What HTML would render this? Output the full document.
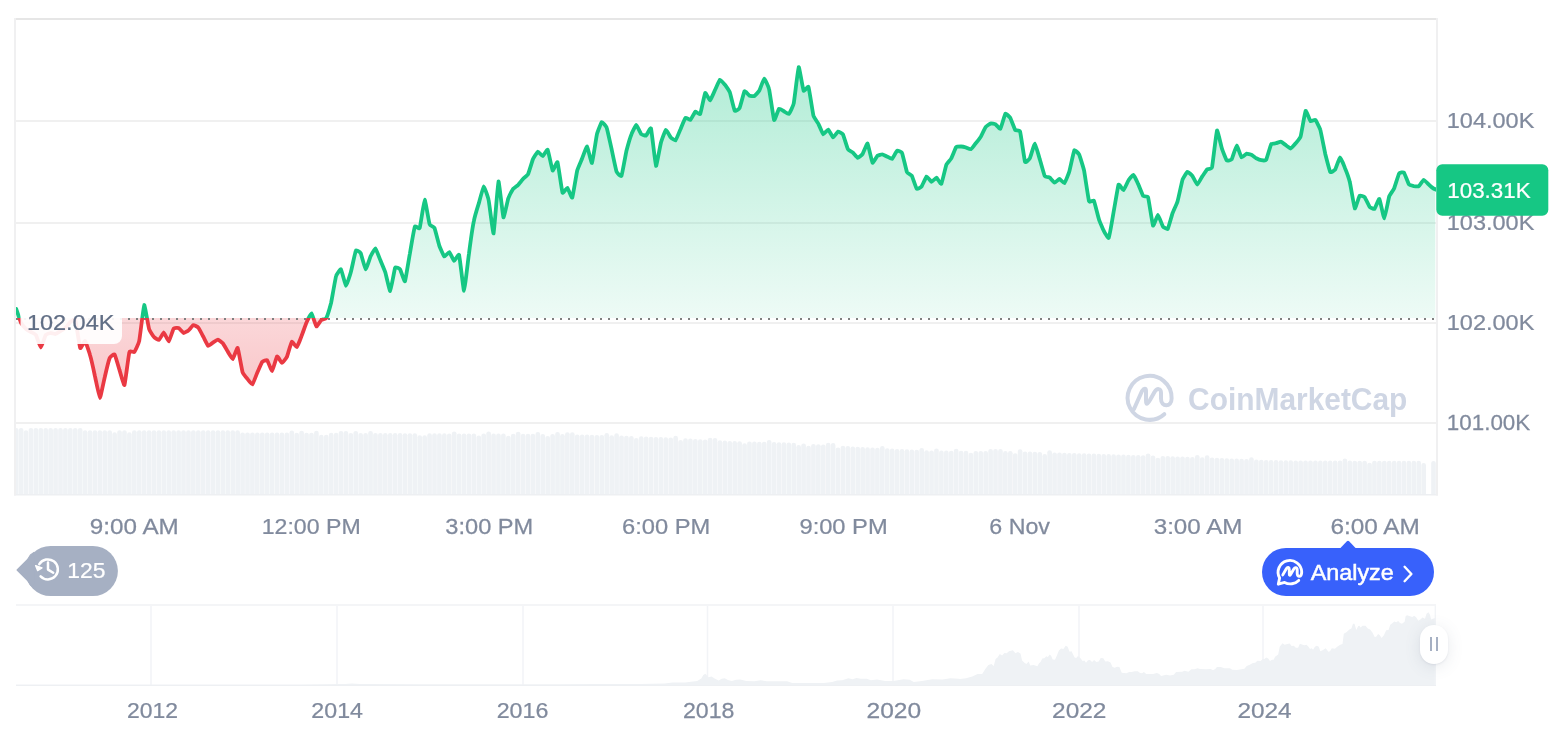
<!DOCTYPE html>
<html lang="en"><head><meta charset="utf-8"><title>Bitcoin price chart</title>
<style>html,body{margin:0;padding:0;background:#fff;}body{width:1566px;height:732px;overflow:hidden;font-family:"Liberation Sans",Arial,sans-serif;}svg{display:block;}body{position:relative;}.handle{position:absolute;left:1420px;top:624.5px;width:28px;height:39.5px;border-radius:14px;background:#fff;box-shadow:0 3px 16px rgba(88,102,126,0.13),0 1px 2px rgba(88,102,126,0.10);}.handle i{position:absolute;top:12.5px;width:1.9px;height:14px;background:#A6B0C3;}.handle i:first-child{left:9.9px;}.handle i:last-child{left:16.1px;}</style>
</head><body>
<svg width="1566" height="732" viewBox="0 0 1566 732" font-family="Liberation Sans, Arial, sans-serif"><defs>
<linearGradient id="gg" gradientUnits="userSpaceOnUse" x1="0" y1="60" x2="0" y2="318"><stop offset="0" stop-color="#16C784" stop-opacity="0.34"/><stop offset="1" stop-color="#16C784" stop-opacity="0.075"/></linearGradient>
<linearGradient id="rg" gradientUnits="userSpaceOnUse" x1="0" y1="318" x2="0" y2="400"><stop offset="0" stop-color="#EA3943" stop-opacity="0.20"/><stop offset="1" stop-color="#EA3943" stop-opacity="0.30"/></linearGradient>
<clipPath id="up"><rect x="16" y="20" width="1420.3" height="298"/></clipPath><clipPath id="upa"><rect x="16" y="20" width="1419.3" height="298"/></clipPath>
<clipPath id="dn"><rect x="16" y="318" width="1420.3" height="110"/></clipPath>
<clipPath id="pane"><rect x="16" y="20" width="1420" height="476"/></clipPath>

</defs><rect width="1566" height="732" fill="#fff"/><rect x="16" y="120" width="1420" height="2" fill="#F0F0F0"/><rect x="16" y="222" width="1420" height="2" fill="#F0F0F0"/><rect x="16" y="322" width="1420" height="2" fill="#F0F0F0"/><rect x="16" y="422" width="1420" height="2" fill="#F0F0F0"/><g fill="#EFF2F5" clip-path="url(#pane)"><path d="M13.90 495V430.1a2.3 2.1 0 0 1 4.6 0V495z"/><path d="M18.82 495V430.1a2.3 2.1 0 0 1 4.6 0V495z"/><path d="M23.74 495V432.4a2.3 2.1 0 0 1 4.6 0V495z"/><path d="M28.66 495V430.1a2.3 2.1 0 0 1 4.6 0V495z"/><path d="M33.58 495V430.1a2.3 2.1 0 0 1 4.6 0V495z"/><path d="M38.51 495V430.1a2.3 2.1 0 0 1 4.6 0V495z"/><path d="M43.43 495V430.1a2.3 2.1 0 0 1 4.6 0V495z"/><path d="M48.35 495V430.1a2.3 2.1 0 0 1 4.6 0V495z"/><path d="M53.27 495V430.1a2.3 2.1 0 0 1 4.6 0V495z"/><path d="M58.19 495V430.1a2.3 2.1 0 0 1 4.6 0V495z"/><path d="M63.11 495V430.1a2.3 2.1 0 0 1 4.6 0V495z"/><path d="M68.03 495V430.1a2.3 2.1 0 0 1 4.6 0V495z"/><path d="M72.95 495V430.1a2.3 2.1 0 0 1 4.6 0V495z"/><path d="M77.88 495V430.1a2.3 2.1 0 0 1 4.6 0V495z"/><path d="M82.80 495V432.3a2.3 2.1 0 0 1 4.6 0V495z"/><path d="M87.72 495V432.3a2.3 2.1 0 0 1 4.6 0V495z"/><path d="M92.64 495V432.3a2.3 2.1 0 0 1 4.6 0V495z"/><path d="M97.56 495V432.3a2.3 2.1 0 0 1 4.6 0V495z"/><path d="M102.48 495V432.3a2.3 2.1 0 0 1 4.6 0V495z"/><path d="M107.40 495V432.3a2.3 2.1 0 0 1 4.6 0V495z"/><path d="M112.32 495V434.4a2.3 2.1 0 0 1 4.6 0V495z"/><path d="M117.25 495V432.3a2.3 2.1 0 0 1 4.6 0V495z"/><path d="M122.17 495V432.3a2.3 2.1 0 0 1 4.6 0V495z"/><path d="M127.09 495V434.4a2.3 2.1 0 0 1 4.6 0V495z"/><path d="M132.01 495V432.3a2.3 2.1 0 0 1 4.6 0V495z"/><path d="M136.93 495V432.3a2.3 2.1 0 0 1 4.6 0V495z"/><path d="M141.85 495V432.3a2.3 2.1 0 0 1 4.6 0V495z"/><path d="M146.77 495V432.3a2.3 2.1 0 0 1 4.6 0V495z"/><path d="M151.69 495V432.3a2.3 2.1 0 0 1 4.6 0V495z"/><path d="M156.61 495V432.3a2.3 2.1 0 0 1 4.6 0V495z"/><path d="M161.54 495V432.3a2.3 2.1 0 0 1 4.6 0V495z"/><path d="M166.46 495V432.3a2.3 2.1 0 0 1 4.6 0V495z"/><path d="M171.38 495V432.3a2.3 2.1 0 0 1 4.6 0V495z"/><path d="M176.30 495V432.3a2.3 2.1 0 0 1 4.6 0V495z"/><path d="M181.22 495V432.3a2.3 2.1 0 0 1 4.6 0V495z"/><path d="M186.14 495V432.3a2.3 2.1 0 0 1 4.6 0V495z"/><path d="M191.06 495V432.3a2.3 2.1 0 0 1 4.6 0V495z"/><path d="M195.98 495V432.3a2.3 2.1 0 0 1 4.6 0V495z"/><path d="M200.91 495V432.3a2.3 2.1 0 0 1 4.6 0V495z"/><path d="M205.83 495V432.3a2.3 2.1 0 0 1 4.6 0V495z"/><path d="M210.75 495V432.3a2.3 2.1 0 0 1 4.6 0V495z"/><path d="M215.67 495V432.3a2.3 2.1 0 0 1 4.6 0V495z"/><path d="M220.59 495V432.3a2.3 2.1 0 0 1 4.6 0V495z"/><path d="M225.51 495V432.3a2.3 2.1 0 0 1 4.6 0V495z"/><path d="M230.43 495V432.3a2.3 2.1 0 0 1 4.6 0V495z"/><path d="M235.35 495V432.3a2.3 2.1 0 0 1 4.6 0V495z"/><path d="M240.28 495V434.5a2.3 2.1 0 0 1 4.6 0V495z"/><path d="M245.20 495V434.5a2.3 2.1 0 0 1 4.6 0V495z"/><path d="M250.12 495V434.6a2.3 2.1 0 0 1 4.6 0V495z"/><path d="M255.04 495V434.6a2.3 2.1 0 0 1 4.6 0V495z"/><path d="M259.96 495V434.6a2.3 2.1 0 0 1 4.6 0V495z"/><path d="M264.88 495V434.6a2.3 2.1 0 0 1 4.6 0V495z"/><path d="M269.80 495V434.6a2.3 2.1 0 0 1 4.6 0V495z"/><path d="M274.72 495V434.7a2.3 2.1 0 0 1 4.6 0V495z"/><path d="M279.64 495V434.7a2.3 2.1 0 0 1 4.6 0V495z"/><path d="M284.57 495V434.7a2.3 2.1 0 0 1 4.6 0V495z"/><path d="M289.49 495V432.7a2.3 2.1 0 0 1 4.6 0V495z"/><path d="M294.41 495V434.8a2.3 2.1 0 0 1 4.6 0V495z"/><path d="M299.33 495V432.8a2.3 2.1 0 0 1 4.6 0V495z"/><path d="M304.25 495V434.8a2.3 2.1 0 0 1 4.6 0V495z"/><path d="M309.17 495V434.8a2.3 2.1 0 0 1 4.6 0V495z"/><path d="M314.09 495V432.9a2.3 2.1 0 0 1 4.6 0V495z"/><path d="M319.01 495V436.9a2.3 2.1 0 0 1 4.6 0V495z"/><path d="M323.94 495V436.9a2.3 2.1 0 0 1 4.6 0V495z"/><path d="M328.86 495V434.9a2.3 2.1 0 0 1 4.6 0V495z"/><path d="M333.78 495V434.9a2.3 2.1 0 0 1 4.6 0V495z"/><path d="M338.70 495V433.0a2.3 2.1 0 0 1 4.6 0V495z"/><path d="M343.62 495V433.0a2.3 2.1 0 0 1 4.6 0V495z"/><path d="M348.54 495V435.0a2.3 2.1 0 0 1 4.6 0V495z"/><path d="M353.46 495V433.0a2.3 2.1 0 0 1 4.6 0V495z"/><path d="M358.38 495V435.1a2.3 2.1 0 0 1 4.6 0V495z"/><path d="M363.31 495V435.1a2.3 2.1 0 0 1 4.6 0V495z"/><path d="M368.23 495V433.1a2.3 2.1 0 0 1 4.6 0V495z"/><path d="M373.15 495V435.1a2.3 2.1 0 0 1 4.6 0V495z"/><path d="M378.07 495V435.1a2.3 2.1 0 0 1 4.6 0V495z"/><path d="M382.99 495V435.2a2.3 2.1 0 0 1 4.6 0V495z"/><path d="M387.91 495V435.2a2.3 2.1 0 0 1 4.6 0V495z"/><path d="M392.83 495V435.2a2.3 2.1 0 0 1 4.6 0V495z"/><path d="M397.75 495V435.2a2.3 2.1 0 0 1 4.6 0V495z"/><path d="M402.67 495V435.3a2.3 2.1 0 0 1 4.6 0V495z"/><path d="M407.60 495V435.3a2.3 2.1 0 0 1 4.6 0V495z"/><path d="M412.52 495V435.3a2.3 2.1 0 0 1 4.6 0V495z"/><path d="M417.44 495V437.3a2.3 2.1 0 0 1 4.6 0V495z"/><path d="M422.36 495V437.4a2.3 2.1 0 0 1 4.6 0V495z"/><path d="M427.28 495V435.4a2.3 2.1 0 0 1 4.6 0V495z"/><path d="M432.20 495V435.4a2.3 2.1 0 0 1 4.6 0V495z"/><path d="M437.12 495V435.4a2.3 2.1 0 0 1 4.6 0V495z"/><path d="M442.04 495V435.4a2.3 2.1 0 0 1 4.6 0V495z"/><path d="M446.97 495V435.5a2.3 2.1 0 0 1 4.6 0V495z"/><path d="M451.89 495V433.5a2.3 2.1 0 0 1 4.6 0V495z"/><path d="M456.81 495V435.5a2.3 2.1 0 0 1 4.6 0V495z"/><path d="M461.73 495V435.5a2.3 2.1 0 0 1 4.6 0V495z"/><path d="M466.65 495V435.6a2.3 2.1 0 0 1 4.6 0V495z"/><path d="M471.57 495V435.6a2.3 2.1 0 0 1 4.6 0V495z"/><path d="M476.49 495V437.6a2.3 2.1 0 0 1 4.6 0V495z"/><path d="M481.41 495V435.6a2.3 2.1 0 0 1 4.6 0V495z"/><path d="M486.34 495V433.6a2.3 2.1 0 0 1 4.6 0V495z"/><path d="M491.26 495V435.7a2.3 2.1 0 0 1 4.6 0V495z"/><path d="M496.18 495V435.7a2.3 2.1 0 0 1 4.6 0V495z"/><path d="M501.10 495V435.7a2.3 2.1 0 0 1 4.6 0V495z"/><path d="M506.02 495V437.8a2.3 2.1 0 0 1 4.6 0V495z"/><path d="M510.94 495V435.8a2.3 2.1 0 0 1 4.6 0V495z"/><path d="M515.86 495V433.8a2.3 2.1 0 0 1 4.6 0V495z"/><path d="M520.78 495V435.9a2.3 2.1 0 0 1 4.6 0V495z"/><path d="M525.70 495V435.9a2.3 2.1 0 0 1 4.6 0V495z"/><path d="M530.63 495V435.9a2.3 2.1 0 0 1 4.6 0V495z"/><path d="M535.55 495V434.0a2.3 2.1 0 0 1 4.6 0V495z"/><path d="M540.47 495V436.0a2.3 2.1 0 0 1 4.6 0V495z"/><path d="M545.39 495V438.0a2.3 2.1 0 0 1 4.6 0V495z"/><path d="M550.31 495V436.1a2.3 2.1 0 0 1 4.6 0V495z"/><path d="M555.23 495V434.1a2.3 2.1 0 0 1 4.6 0V495z"/><path d="M560.15 495V436.2a2.3 2.1 0 0 1 4.6 0V495z"/><path d="M565.07 495V434.3a2.3 2.1 0 0 1 4.6 0V495z"/><path d="M570.00 495V434.4a2.3 2.1 0 0 1 4.6 0V495z"/><path d="M574.92 495V436.5a2.3 2.1 0 0 1 4.6 0V495z"/><path d="M579.84 495V436.6a2.3 2.1 0 0 1 4.6 0V495z"/><path d="M584.76 495V436.7a2.3 2.1 0 0 1 4.6 0V495z"/><path d="M589.68 495V436.8a2.3 2.1 0 0 1 4.6 0V495z"/><path d="M594.60 495V437.0a2.3 2.1 0 0 1 4.6 0V495z"/><path d="M599.52 495V437.1a2.3 2.1 0 0 1 4.6 0V495z"/><path d="M604.44 495V435.2a2.3 2.1 0 0 1 4.6 0V495z"/><path d="M609.37 495V437.3a2.3 2.1 0 0 1 4.6 0V495z"/><path d="M614.29 495V435.4a2.3 2.1 0 0 1 4.6 0V495z"/><path d="M619.21 495V437.6a2.3 2.1 0 0 1 4.6 0V495z"/><path d="M624.13 495V437.8a2.3 2.1 0 0 1 4.6 0V495z"/><path d="M629.05 495V438.0a2.3 2.1 0 0 1 4.6 0V495z"/><path d="M633.97 495V440.2a2.3 2.1 0 0 1 4.6 0V495z"/><path d="M638.89 495V438.4a2.3 2.1 0 0 1 4.6 0V495z"/><path d="M643.81 495V438.6a2.3 2.1 0 0 1 4.6 0V495z"/><path d="M648.73 495V438.8a2.3 2.1 0 0 1 4.6 0V495z"/><path d="M653.66 495V439.0a2.3 2.1 0 0 1 4.6 0V495z"/><path d="M658.58 495V439.2a2.3 2.1 0 0 1 4.6 0V495z"/><path d="M663.50 495V439.4a2.3 2.1 0 0 1 4.6 0V495z"/><path d="M668.42 495V439.6a2.3 2.1 0 0 1 4.6 0V495z"/><path d="M673.34 495V437.9a2.3 2.1 0 0 1 4.6 0V495z"/><path d="M678.26 495V442.1a2.3 2.1 0 0 1 4.6 0V495z"/><path d="M683.18 495V440.4a2.3 2.1 0 0 1 4.6 0V495z"/><path d="M688.10 495V440.7a2.3 2.1 0 0 1 4.6 0V495z"/><path d="M693.03 495V441.0a2.3 2.1 0 0 1 4.6 0V495z"/><path d="M697.95 495V441.3a2.3 2.1 0 0 1 4.6 0V495z"/><path d="M702.87 495V441.6a2.3 2.1 0 0 1 4.6 0V495z"/><path d="M707.79 495V439.8a2.3 2.1 0 0 1 4.6 0V495z"/><path d="M712.71 495V440.1a2.3 2.1 0 0 1 4.6 0V495z"/><path d="M717.63 495V442.4a2.3 2.1 0 0 1 4.6 0V495z"/><path d="M722.55 495V442.7a2.3 2.1 0 0 1 4.6 0V495z"/><path d="M727.47 495V443.0a2.3 2.1 0 0 1 4.6 0V495z"/><path d="M732.40 495V443.2a2.3 2.1 0 0 1 4.6 0V495z"/><path d="M737.32 495V443.3a2.3 2.1 0 0 1 4.6 0V495z"/><path d="M742.24 495V445.4a2.3 2.1 0 0 1 4.6 0V495z"/><path d="M747.16 495V443.6a2.3 2.1 0 0 1 4.6 0V495z"/><path d="M752.08 495V443.7a2.3 2.1 0 0 1 4.6 0V495z"/><path d="M757.00 495V443.8a2.3 2.1 0 0 1 4.6 0V495z"/><path d="M761.92 495V443.9a2.3 2.1 0 0 1 4.6 0V495z"/><path d="M766.84 495V442.1a2.3 2.1 0 0 1 4.6 0V495z"/><path d="M771.76 495V444.2a2.3 2.1 0 0 1 4.6 0V495z"/><path d="M776.69 495V444.3a2.3 2.1 0 0 1 4.6 0V495z"/><path d="M781.61 495V444.4a2.3 2.1 0 0 1 4.6 0V495z"/><path d="M786.53 495V444.7a2.3 2.1 0 0 1 4.6 0V495z"/><path d="M791.45 495V444.9a2.3 2.1 0 0 1 4.6 0V495z"/><path d="M796.37 495V447.2a2.3 2.1 0 0 1 4.6 0V495z"/><path d="M801.29 495V445.5a2.3 2.1 0 0 1 4.6 0V495z"/><path d="M806.21 495V447.8a2.3 2.1 0 0 1 4.6 0V495z"/><path d="M811.13 495V446.1a2.3 2.1 0 0 1 4.6 0V495z"/><path d="M816.06 495V446.3a2.3 2.1 0 0 1 4.6 0V495z"/><path d="M820.98 495V446.6a2.3 2.1 0 0 1 4.6 0V495z"/><path d="M825.90 495V444.9a2.3 2.1 0 0 1 4.6 0V495z"/><path d="M830.82 495V445.2a2.3 2.1 0 0 1 4.6 0V495z"/><path d="M835.74 495V449.5a2.3 2.1 0 0 1 4.6 0V495z"/><path d="M840.66 495V447.8a2.3 2.1 0 0 1 4.6 0V495z"/><path d="M845.58 495V448.2a2.3 2.1 0 0 1 4.6 0V495z"/><path d="M850.50 495V448.5a2.3 2.1 0 0 1 4.6 0V495z"/><path d="M855.43 495V448.8a2.3 2.1 0 0 1 4.6 0V495z"/><path d="M860.35 495V449.1a2.3 2.1 0 0 1 4.6 0V495z"/><path d="M865.27 495V449.4a2.3 2.1 0 0 1 4.6 0V495z"/><path d="M870.19 495V449.7a2.3 2.1 0 0 1 4.6 0V495z"/><path d="M875.11 495V449.9a2.3 2.1 0 0 1 4.6 0V495z"/><path d="M880.03 495V448.2a2.3 2.1 0 0 1 4.6 0V495z"/><path d="M884.95 495V450.4a2.3 2.1 0 0 1 4.6 0V495z"/><path d="M889.87 495V450.7a2.3 2.1 0 0 1 4.6 0V495z"/><path d="M894.79 495V451.0a2.3 2.1 0 0 1 4.6 0V495z"/><path d="M899.72 495V451.2a2.3 2.1 0 0 1 4.6 0V495z"/><path d="M904.64 495V451.4a2.3 2.1 0 0 1 4.6 0V495z"/><path d="M909.56 495V451.7a2.3 2.1 0 0 1 4.6 0V495z"/><path d="M914.48 495V451.9a2.3 2.1 0 0 1 4.6 0V495z"/><path d="M919.40 495V450.1a2.3 2.1 0 0 1 4.6 0V495z"/><path d="M924.32 495V452.3a2.3 2.1 0 0 1 4.6 0V495z"/><path d="M929.24 495V452.6a2.3 2.1 0 0 1 4.6 0V495z"/><path d="M934.16 495V450.6a2.3 2.1 0 0 1 4.6 0V495z"/><path d="M939.09 495V452.7a2.3 2.1 0 0 1 4.6 0V495z"/><path d="M944.01 495V452.7a2.3 2.1 0 0 1 4.6 0V495z"/><path d="M948.93 495V452.8a2.3 2.1 0 0 1 4.6 0V495z"/><path d="M953.85 495V450.8a2.3 2.1 0 0 1 4.6 0V495z"/><path d="M958.77 495V452.8a2.3 2.1 0 0 1 4.6 0V495z"/><path d="M963.69 495V452.9a2.3 2.1 0 0 1 4.6 0V495z"/><path d="M968.61 495V454.9a2.3 2.1 0 0 1 4.6 0V495z"/><path d="M973.53 495V453.0a2.3 2.1 0 0 1 4.6 0V495z"/><path d="M978.46 495V453.0a2.3 2.1 0 0 1 4.6 0V495z"/><path d="M983.38 495V453.0a2.3 2.1 0 0 1 4.6 0V495z"/><path d="M988.30 495V451.1a2.3 2.1 0 0 1 4.6 0V495z"/><path d="M993.22 495V451.1a2.3 2.1 0 0 1 4.6 0V495z"/><path d="M998.14 495V451.2a2.3 2.1 0 0 1 4.6 0V495z"/><path d="M1003.06 495V453.2a2.3 2.1 0 0 1 4.6 0V495z"/><path d="M1007.98 495V453.2a2.3 2.1 0 0 1 4.6 0V495z"/><path d="M1012.90 495V455.3a2.3 2.1 0 0 1 4.6 0V495z"/><path d="M1017.82 495V451.4a2.3 2.1 0 0 1 4.6 0V495z"/><path d="M1022.75 495V453.5a2.3 2.1 0 0 1 4.6 0V495z"/><path d="M1027.67 495V453.7a2.3 2.1 0 0 1 4.6 0V495z"/><path d="M1032.59 495V453.8a2.3 2.1 0 0 1 4.6 0V495z"/><path d="M1037.51 495V454.0a2.3 2.1 0 0 1 4.6 0V495z"/><path d="M1042.43 495V456.2a2.3 2.1 0 0 1 4.6 0V495z"/><path d="M1047.35 495V452.3a2.3 2.1 0 0 1 4.6 0V495z"/><path d="M1052.27 495V454.5a2.3 2.1 0 0 1 4.6 0V495z"/><path d="M1057.19 495V454.6a2.3 2.1 0 0 1 4.6 0V495z"/><path d="M1062.12 495V454.8a2.3 2.1 0 0 1 4.6 0V495z"/><path d="M1067.04 495V455.0a2.3 2.1 0 0 1 4.6 0V495z"/><path d="M1071.96 495V455.1a2.3 2.1 0 0 1 4.6 0V495z"/><path d="M1076.88 495V455.3a2.3 2.1 0 0 1 4.6 0V495z"/><path d="M1081.80 495V455.4a2.3 2.1 0 0 1 4.6 0V495z"/><path d="M1086.72 495V455.6a2.3 2.1 0 0 1 4.6 0V495z"/><path d="M1091.64 495V455.7a2.3 2.1 0 0 1 4.6 0V495z"/><path d="M1096.56 495V455.9a2.3 2.1 0 0 1 4.6 0V495z"/><path d="M1101.49 495V456.1a2.3 2.1 0 0 1 4.6 0V495z"/><path d="M1106.41 495V456.2a2.3 2.1 0 0 1 4.6 0V495z"/><path d="M1111.33 495V456.4a2.3 2.1 0 0 1 4.6 0V495z"/><path d="M1116.25 495V456.5a2.3 2.1 0 0 1 4.6 0V495z"/><path d="M1121.17 495V456.7a2.3 2.1 0 0 1 4.6 0V495z"/><path d="M1126.09 495V456.9a2.3 2.1 0 0 1 4.6 0V495z"/><path d="M1131.01 495V457.0a2.3 2.1 0 0 1 4.6 0V495z"/><path d="M1135.93 495V457.2a2.3 2.1 0 0 1 4.6 0V495z"/><path d="M1140.85 495V457.3a2.3 2.1 0 0 1 4.6 0V495z"/><path d="M1145.78 495V455.5a2.3 2.1 0 0 1 4.6 0V495z"/><path d="M1150.70 495V457.7a2.3 2.1 0 0 1 4.6 0V495z"/><path d="M1155.62 495V459.8a2.3 2.1 0 0 1 4.6 0V495z"/><path d="M1160.54 495V458.0a2.3 2.1 0 0 1 4.6 0V495z"/><path d="M1165.46 495V458.1a2.3 2.1 0 0 1 4.6 0V495z"/><path d="M1170.38 495V458.3a2.3 2.1 0 0 1 4.6 0V495z"/><path d="M1175.30 495V458.5a2.3 2.1 0 0 1 4.6 0V495z"/><path d="M1180.22 495V458.6a2.3 2.1 0 0 1 4.6 0V495z"/><path d="M1185.15 495V458.8a2.3 2.1 0 0 1 4.6 0V495z"/><path d="M1190.07 495V459.0a2.3 2.1 0 0 1 4.6 0V495z"/><path d="M1194.99 495V457.1a2.3 2.1 0 0 1 4.6 0V495z"/><path d="M1199.91 495V459.3a2.3 2.1 0 0 1 4.6 0V495z"/><path d="M1204.83 495V457.4a2.3 2.1 0 0 1 4.6 0V495z"/><path d="M1209.75 495V459.6a2.3 2.1 0 0 1 4.6 0V495z"/><path d="M1214.67 495V459.8a2.3 2.1 0 0 1 4.6 0V495z"/><path d="M1219.59 495V460.0a2.3 2.1 0 0 1 4.6 0V495z"/><path d="M1224.52 495V460.3a2.3 2.1 0 0 1 4.6 0V495z"/><path d="M1229.44 495V460.5a2.3 2.1 0 0 1 4.6 0V495z"/><path d="M1234.36 495V460.7a2.3 2.1 0 0 1 4.6 0V495z"/><path d="M1239.28 495V460.9a2.3 2.1 0 0 1 4.6 0V495z"/><path d="M1244.20 495V461.1a2.3 2.1 0 0 1 4.6 0V495z"/><path d="M1249.12 495V459.4a2.3 2.1 0 0 1 4.6 0V495z"/><path d="M1254.04 495V461.6a2.3 2.1 0 0 1 4.6 0V495z"/><path d="M1258.96 495V461.8a2.3 2.1 0 0 1 4.6 0V495z"/><path d="M1263.88 495V462.0a2.3 2.1 0 0 1 4.6 0V495z"/><path d="M1268.81 495V462.1a2.3 2.1 0 0 1 4.6 0V495z"/><path d="M1273.73 495V462.2a2.3 2.1 0 0 1 4.6 0V495z"/><path d="M1278.65 495V462.3a2.3 2.1 0 0 1 4.6 0V495z"/><path d="M1283.57 495V462.4a2.3 2.1 0 0 1 4.6 0V495z"/><path d="M1288.49 495V462.4a2.3 2.1 0 0 1 4.6 0V495z"/><path d="M1293.41 495V462.5a2.3 2.1 0 0 1 4.6 0V495z"/><path d="M1298.33 495V462.6a2.3 2.1 0 0 1 4.6 0V495z"/><path d="M1303.25 495V462.6a2.3 2.1 0 0 1 4.6 0V495z"/><path d="M1308.18 495V462.6a2.3 2.1 0 0 1 4.6 0V495z"/><path d="M1313.10 495V462.6a2.3 2.1 0 0 1 4.6 0V495z"/><path d="M1318.02 495V462.7a2.3 2.1 0 0 1 4.6 0V495z"/><path d="M1322.94 495V462.7a2.3 2.1 0 0 1 4.6 0V495z"/><path d="M1327.86 495V462.7a2.3 2.1 0 0 1 4.6 0V495z"/><path d="M1332.78 495V462.7a2.3 2.1 0 0 1 4.6 0V495z"/><path d="M1337.70 495V462.7a2.3 2.1 0 0 1 4.6 0V495z"/><path d="M1342.62 495V460.7a2.3 2.1 0 0 1 4.6 0V495z"/><path d="M1347.55 495V462.7a2.3 2.1 0 0 1 4.6 0V495z"/><path d="M1352.47 495V462.8a2.3 2.1 0 0 1 4.6 0V495z"/><path d="M1357.39 495V462.8a2.3 2.1 0 0 1 4.6 0V495z"/><path d="M1362.31 495V462.8a2.3 2.1 0 0 1 4.6 0V495z"/><path d="M1367.23 495V464.8a2.3 2.1 0 0 1 4.6 0V495z"/><path d="M1372.15 495V462.8a2.3 2.1 0 0 1 4.6 0V495z"/><path d="M1377.07 495V462.8a2.3 2.1 0 0 1 4.6 0V495z"/><path d="M1381.99 495V462.8a2.3 2.1 0 0 1 4.6 0V495z"/><path d="M1386.91 495V462.9a2.3 2.1 0 0 1 4.6 0V495z"/><path d="M1391.84 495V462.9a2.3 2.1 0 0 1 4.6 0V495z"/><path d="M1396.76 495V462.9a2.3 2.1 0 0 1 4.6 0V495z"/><path d="M1401.68 495V462.9a2.3 2.1 0 0 1 4.6 0V495z"/><path d="M1406.60 495V462.9a2.3 2.1 0 0 1 4.6 0V495z"/><path d="M1411.52 495V462.9a2.3 2.1 0 0 1 4.6 0V495z"/><path d="M1416.44 495V462.9a2.3 2.1 0 0 1 4.6 0V495z"/><path d="M1421.36 495V465.0a2.3 2.1 0 0 1 4.6 0V495z"/><path d="M1431.21 495V463.0a2.3 2.1 0 0 1 4.6 0V495z"/></g><rect x="14" y="494" width="1424" height="1.5" fill="#EDEFF2"/><g fill="none" stroke="#CFD6E4" stroke-width="4" stroke-linecap="round" stroke-linejoin="round"><path d="M1164.3 414.2 A22 22 0 1 1 1171.6 398.5 C1171.6 407.5 1161 407.5 1161 398.5 V393 C1161 388 1157 388 1154.5 392 L1150 400 C1147 405 1146 405 1146 400 V391 C1146 388 1144 388 1142 391 L1134 409"/></g><text transform="translate(1188.07 409.7) scale(0.9808 1)" font-size="30.5" fill="#CFD6E4" font-weight="bold">CoinMarketCap</text><path d="M16.2 309.0C16.5 309.8 20.6 321.9 21.1 323.0C21.7 324.1 25.5 328.5 26.0 329.0C26.6 329.5 30.4 331.7 31.0 332.0C31.5 332.3 35.3 334.1 35.9 335.0C36.4 335.9 40.3 347.5 40.8 347.5C41.4 347.5 45.2 335.8 45.7 335.0C46.3 334.2 50.1 333.1 50.6 333.0C51.2 332.9 55.0 334.1 55.6 334.0C56.1 333.9 59.9 331.3 60.5 331.0C61.0 330.7 64.9 328.5 65.4 328.0C66.0 327.5 69.8 322.4 70.3 322.0C70.9 321.6 74.7 318.6 75.3 320.0C75.8 321.4 79.6 346.8 80.2 348.0C80.7 349.2 84.5 340.6 85.1 341.0C85.6 341.4 89.5 353.1 90.0 355.0C90.6 356.9 94.4 373.6 94.9 376.0C95.5 378.4 99.3 397.9 99.9 398.0C100.4 398.1 104.2 379.2 104.8 377.0C105.3 374.8 109.2 359.2 109.7 358.0C110.2 356.8 114.1 353.8 114.6 354.5C115.2 355.2 119.0 368.3 119.5 370.0C120.1 371.7 123.9 386.0 124.5 385.0C125.0 384.0 128.8 353.8 129.4 352.0C129.9 350.2 133.8 352.6 134.3 352.0C134.9 351.4 138.7 343.6 139.2 341.0C139.8 338.4 143.6 305.7 144.2 305.0C144.7 304.3 148.5 327.2 149.1 329.0C149.6 330.8 153.4 336.4 154.0 337.0C154.5 337.6 158.4 340.2 158.9 340.0C159.5 339.8 163.3 332.4 163.8 332.5C164.4 332.6 168.2 341.7 168.8 341.5C169.3 341.3 173.1 329.2 173.7 328.5C174.2 327.8 178.1 327.8 178.6 328.0C179.1 328.2 183.0 332.9 183.5 333.0C184.1 333.1 187.9 330.9 188.4 330.5C189.0 330.1 192.8 325.2 193.4 325.0C193.9 324.8 197.7 327.0 198.3 327.6C198.8 328.2 202.7 335.6 203.2 336.6C203.8 337.6 207.6 345.6 208.1 345.9C208.7 346.2 212.5 343.0 213.0 342.6C213.6 342.2 217.4 339.6 218.0 339.6C218.5 339.6 222.3 342.6 222.9 343.3C223.4 344.0 227.3 350.7 227.8 351.6C228.4 352.5 232.2 359.3 232.7 359.1C233.3 358.9 237.1 347.2 237.7 347.9C238.2 348.6 242.0 370.6 242.6 372.3C243.1 374.0 246.9 378.3 247.5 379.0C248.0 379.7 251.9 384.8 252.4 384.4C253.0 384.0 256.8 373.9 257.3 372.6C257.9 371.3 261.7 362.5 262.3 361.8C262.8 361.1 266.6 359.8 267.2 360.3C267.7 360.8 271.6 371.3 272.1 371.1C272.6 370.9 276.5 356.9 277.0 356.4C277.6 355.9 281.4 362.9 281.9 362.9C282.5 362.9 286.3 358.1 286.9 356.9C287.4 355.7 291.2 342.3 291.8 341.8C292.3 341.3 296.2 347.4 296.7 347.1C297.3 346.8 301.1 337.2 301.6 335.8C302.2 334.4 306.0 323.6 306.6 322.3C307.1 321.1 310.9 313.1 311.5 313.3C312.0 313.5 315.8 326.0 316.4 326.4C316.9 326.8 320.8 320.5 321.3 320.0C321.9 319.5 325.7 319.2 326.2 318.2C326.8 317.2 330.6 304.7 331.2 302.4C331.7 300.1 335.5 277.8 336.1 276.0C336.6 274.2 340.5 268.8 341.0 269.3C341.5 269.8 345.4 285.6 345.9 285.8C346.5 286.0 350.3 274.2 350.8 272.3C351.4 270.4 355.2 251.9 355.8 250.8C356.3 249.7 360.1 252.2 360.7 253.2C361.2 254.2 365.1 269.1 365.6 269.3C366.2 269.5 370.0 257.7 370.5 256.5C371.1 255.3 374.9 248.1 375.4 248.3C376.0 248.5 379.8 259.0 380.4 260.3C380.9 261.6 384.7 270.6 385.3 272.3C385.8 274.0 389.7 291.3 390.2 291.1C390.8 290.8 394.6 269.0 395.1 267.8C395.7 266.6 399.5 268.5 400.1 269.3C400.6 270.0 404.4 282.2 405.0 281.3C405.5 280.4 409.3 256.5 409.9 253.5C410.4 250.5 414.3 228.2 414.8 226.8C415.4 225.4 419.2 229.5 419.7 228.0C420.3 226.5 424.1 199.9 424.7 199.7C425.2 199.5 429.0 222.6 429.6 224.2C430.1 225.8 434.0 226.8 434.5 228.0C435.0 229.2 438.9 244.4 439.4 246.0C440.0 247.6 443.8 256.2 444.3 256.5C444.9 256.8 448.7 251.8 449.3 252.0C449.8 252.2 453.6 260.8 454.2 261.0C454.7 261.2 458.6 253.3 459.1 255.0C459.7 256.7 463.5 290.9 464.0 290.8C464.6 290.7 468.4 257.4 469.0 253.5C469.5 249.6 473.3 223.7 473.9 220.9C474.4 218.1 478.2 205.3 478.8 203.4C479.3 201.5 483.2 186.6 483.7 186.4C484.3 186.2 488.1 197.3 488.6 199.9C489.2 202.5 493.0 234.4 493.6 233.4C494.1 232.4 497.9 182.3 498.5 181.4C499.0 180.5 502.9 216.5 503.4 217.4C503.9 218.3 507.8 199.9 508.3 198.3C508.9 196.7 512.7 189.6 513.2 188.8C513.8 188.1 517.6 185.4 518.2 184.8C518.7 184.2 522.5 179.4 523.1 178.8C523.6 178.2 527.5 175.4 528.0 174.3C528.6 173.2 532.4 160.5 532.9 159.2C533.5 157.9 537.3 151.9 537.8 151.7C538.4 151.5 542.2 156.3 542.8 156.2C543.3 156.1 547.1 149.0 547.7 149.8C548.2 150.6 552.1 169.8 552.6 170.5C553.2 171.2 557.0 161.0 557.5 162.2C558.1 163.4 561.9 191.3 562.5 192.7C563.0 194.1 566.8 187.5 567.4 187.8C567.9 188.1 571.7 198.6 572.3 197.6C572.8 196.6 576.7 172.7 577.2 170.5C577.8 168.3 581.6 159.8 582.1 158.5C582.7 157.2 586.5 146.2 587.1 146.5C587.6 146.8 591.4 163.7 592.0 163.0C592.5 162.3 596.4 136.7 596.9 134.4C597.4 132.1 601.3 122.5 601.8 122.1C602.4 121.7 606.2 126.2 606.7 127.7C607.3 129.2 611.1 147.1 611.7 149.5C612.2 151.9 616.0 170.2 616.6 171.7C617.1 173.2 621.0 177.0 621.5 175.8C622.1 174.7 625.9 153.3 626.4 151.0C627.0 148.7 630.8 135.8 631.4 134.4C631.9 133.0 635.7 125.0 636.3 125.0C636.8 125.0 640.6 133.5 641.2 134.1C641.7 134.7 645.6 135.9 646.1 135.6C646.7 135.3 650.5 126.8 651.0 128.5C651.6 130.2 655.4 165.1 656.0 165.9C656.5 166.7 660.3 144.9 660.9 142.9C661.4 140.9 665.3 130.1 665.8 129.8C666.3 129.5 670.2 136.7 670.7 137.3C671.3 137.9 675.1 140.8 675.6 140.3C676.2 139.8 680.0 130.2 680.6 129.0C681.1 127.8 684.9 118.3 685.5 117.8C686.0 117.3 689.9 120.3 690.4 120.0C691.0 119.7 694.8 112.0 695.3 111.7C695.9 111.4 699.7 115.0 700.2 114.0C700.8 113.0 704.6 93.8 705.2 93.0C705.7 92.2 709.5 100.7 710.1 100.5C710.6 100.3 714.5 91.2 715.0 90.0C715.6 88.8 719.4 80.0 719.9 79.7C720.5 79.4 724.3 84.0 724.9 84.7C725.4 85.4 729.2 90.8 729.8 92.2C730.3 93.6 734.1 109.8 734.7 110.7C735.2 111.6 739.1 109.1 739.6 108.0C740.2 106.9 744.0 91.9 744.5 91.2C745.1 90.5 748.9 95.4 749.5 95.7C750.0 96.0 753.8 96.3 754.4 96.0C754.9 95.7 758.8 91.7 759.3 90.7C759.8 89.7 763.7 78.8 764.2 78.7C764.8 78.6 768.6 86.9 769.1 89.2C769.7 91.5 773.5 118.9 774.1 120.0C774.6 121.1 778.4 109.2 779.0 108.7C779.5 108.2 783.4 111.0 783.9 111.3C784.5 111.6 788.3 114.4 788.8 114.0C789.4 113.6 793.2 106.1 793.7 103.5C794.3 100.9 798.1 67.8 798.7 67.1C799.2 66.4 803.0 89.6 803.6 90.7C804.1 91.8 808.0 85.6 808.5 87.0C809.1 88.4 812.9 113.5 813.4 115.5C814.0 117.5 817.8 122.8 818.4 123.8C818.9 124.8 822.7 134.0 823.3 134.3C823.8 134.6 827.7 129.3 828.2 129.5C828.7 129.7 832.6 137.3 833.1 137.4C833.7 137.5 837.5 131.8 838.0 131.6C838.6 131.4 842.4 133.4 843.0 134.4C843.5 135.4 847.3 148.2 847.9 149.2C848.4 150.2 852.3 152.0 852.8 152.5C853.4 153.0 857.2 157.7 857.7 157.8C858.3 157.9 862.1 154.8 862.6 154.0C863.2 153.2 867.0 143.0 867.6 143.5C868.1 144.0 871.9 162.0 872.5 162.7C873.0 163.4 876.9 156.3 877.4 155.8C878.0 155.3 881.8 154.2 882.3 154.3C882.9 154.4 886.7 156.5 887.3 156.7C887.8 157.0 891.6 159.1 892.2 158.8C892.7 158.5 896.5 151.0 897.1 150.7C897.6 150.4 901.5 151.6 902.0 152.8C902.6 154.0 906.4 170.7 906.9 172.0C907.5 173.3 911.3 174.9 911.9 175.8C912.4 176.7 916.2 188.3 916.8 188.9C917.3 189.5 921.2 187.0 921.7 186.3C922.2 185.6 926.1 176.8 926.6 176.5C927.2 176.2 931.0 181.7 931.5 181.8C932.1 181.9 935.9 177.6 936.5 177.7C937.0 177.8 940.8 184.5 941.4 183.8C941.9 183.1 945.8 166.2 946.3 164.8C946.9 163.4 950.7 159.5 951.2 158.5C951.8 157.5 955.6 147.9 956.1 147.2C956.7 146.5 960.5 146.5 961.1 146.5C961.6 146.5 965.4 147.3 966.0 147.5C966.5 147.7 970.4 149.4 970.9 149.2C971.5 149.0 975.3 143.9 975.8 143.2C976.4 142.5 980.2 137.6 980.8 136.7C981.3 135.8 985.1 127.7 985.7 127.0C986.2 126.3 990.1 123.7 990.6 123.5C991.1 123.3 995.0 124.0 995.5 124.3C996.1 124.6 999.9 129.4 1000.4 128.8C1001.0 128.2 1004.8 114.3 1005.4 113.7C1005.9 113.1 1009.7 117.0 1010.3 117.9C1010.8 118.8 1014.7 129.2 1015.2 130.0C1015.8 130.8 1019.6 129.9 1020.1 131.7C1020.7 133.5 1024.5 160.4 1025.0 161.9C1025.6 163.4 1029.4 158.9 1030.0 157.9C1030.5 156.9 1034.3 143.6 1034.9 143.7C1035.4 143.8 1039.3 157.6 1039.8 159.4C1040.4 161.2 1044.2 175.0 1044.7 176.0C1045.3 177.0 1049.1 177.1 1049.7 177.5C1050.2 177.9 1054.0 182.6 1054.6 182.7C1055.1 182.8 1058.9 179.0 1059.5 179.0C1060.0 179.0 1063.9 183.6 1064.4 183.2C1065.0 182.8 1068.8 173.3 1069.3 171.5C1069.9 169.7 1073.7 151.3 1074.3 150.4C1074.8 149.5 1078.6 153.5 1079.2 154.6C1079.7 155.7 1083.6 168.1 1084.1 170.7C1084.6 173.3 1088.5 199.5 1089.0 201.2C1089.6 202.9 1093.4 199.8 1093.9 200.8C1094.5 201.8 1098.3 217.5 1098.9 219.2C1099.4 220.9 1103.2 229.8 1103.8 230.8C1104.3 231.8 1108.2 238.9 1108.7 237.9C1109.3 236.9 1113.1 215.0 1113.6 212.0C1114.2 209.0 1118.0 185.9 1118.5 184.7C1119.1 183.5 1122.9 190.4 1123.5 190.2C1124.0 190.0 1127.8 181.4 1128.4 180.5C1128.9 179.6 1132.8 174.6 1133.3 174.8C1133.9 175.0 1137.7 183.0 1138.2 184.2C1138.8 185.4 1142.6 195.3 1143.2 196.0C1143.7 196.7 1147.5 195.7 1148.1 197.3C1148.6 198.9 1152.5 224.6 1153.0 225.6C1153.5 226.6 1157.4 215.0 1157.9 215.0C1158.5 215.0 1162.3 225.5 1162.8 226.3C1163.4 227.1 1167.2 229.7 1167.8 228.9C1168.3 228.2 1172.1 214.3 1172.7 212.8C1173.2 211.3 1177.1 203.0 1177.6 201.2C1178.2 199.4 1182.0 181.3 1182.5 179.7C1183.1 178.1 1186.9 172.0 1187.4 171.8C1188.0 171.6 1191.8 175.2 1192.4 175.9C1192.9 176.6 1196.7 184.7 1197.3 184.7C1197.8 184.7 1201.7 177.3 1202.2 176.5C1202.8 175.7 1206.6 169.9 1207.1 169.4C1207.7 168.9 1211.5 169.1 1212.1 166.9C1212.6 164.7 1216.4 131.5 1217.0 130.5C1217.5 129.5 1221.3 146.8 1221.9 148.5C1222.4 150.2 1226.3 159.9 1226.8 160.5C1227.4 161.1 1231.2 160.1 1231.7 159.3C1232.3 158.5 1236.1 145.6 1236.7 145.5C1237.2 145.4 1241.0 157.0 1241.6 157.5C1242.1 158.0 1246.0 153.9 1246.5 153.7C1247.0 153.6 1250.9 154.5 1251.4 154.8C1252.0 155.1 1255.8 158.0 1256.3 158.3C1256.9 158.6 1260.7 160.1 1261.3 160.2C1261.8 160.3 1265.6 160.7 1266.2 159.8C1266.7 158.9 1270.6 145.2 1271.1 144.3C1271.7 143.4 1275.5 143.3 1276.0 143.2C1276.6 143.1 1280.4 141.6 1280.9 141.7C1281.5 141.8 1285.3 144.8 1285.9 145.2C1286.4 145.6 1290.2 148.6 1290.8 148.5C1291.3 148.4 1295.2 143.9 1295.7 143.2C1296.3 142.5 1300.1 138.3 1300.6 136.5C1301.2 134.7 1305.0 111.8 1305.6 110.9C1306.1 110.0 1309.9 120.6 1310.5 121.1C1311.0 121.6 1314.8 119.4 1315.4 119.9C1315.9 120.4 1319.8 127.8 1320.3 129.7C1320.9 131.6 1324.7 151.4 1325.2 153.7C1325.8 156.0 1329.6 171.0 1330.2 171.9C1330.7 172.8 1334.5 170.5 1335.1 169.7C1335.6 168.9 1339.5 157.5 1340.0 157.4C1340.5 157.3 1344.4 166.5 1344.9 167.9C1345.5 169.3 1349.3 179.8 1349.8 182.1C1350.4 184.3 1354.2 207.6 1354.8 208.4C1355.3 209.2 1359.1 196.3 1359.7 195.7C1360.2 195.1 1364.1 196.5 1364.6 197.1C1365.2 197.7 1369.0 206.0 1369.5 206.7C1370.1 207.4 1373.9 209.3 1374.5 208.9C1375.0 208.5 1378.8 198.4 1379.4 198.9C1379.9 199.4 1383.7 218.5 1384.3 218.4C1384.8 218.3 1388.7 198.1 1389.2 196.4C1389.8 194.7 1393.6 189.8 1394.1 188.5C1394.7 187.2 1398.5 174.4 1399.1 173.5C1399.6 172.6 1403.4 172.0 1404.0 172.6C1404.5 173.2 1408.4 183.6 1408.9 184.3C1409.4 185.1 1413.3 186.0 1413.8 186.1C1414.4 186.2 1418.2 186.7 1418.7 186.3C1419.3 186.0 1423.1 179.9 1423.7 179.8C1424.2 179.7 1428.0 183.8 1428.6 184.3C1429.1 184.8 1433.0 188.2 1433.5 188.5C1434.0 188.8 1436.8 189.9 1437.0 190.0 L1437.0 318.0 L16.2 318.0 Z" fill="url(#gg)" clip-path="url(#upa)"/><path d="M16.2 309.0C16.5 309.8 20.6 321.9 21.1 323.0C21.7 324.1 25.5 328.5 26.0 329.0C26.6 329.5 30.4 331.7 31.0 332.0C31.5 332.3 35.3 334.1 35.9 335.0C36.4 335.9 40.3 347.5 40.8 347.5C41.4 347.5 45.2 335.8 45.7 335.0C46.3 334.2 50.1 333.1 50.6 333.0C51.2 332.9 55.0 334.1 55.6 334.0C56.1 333.9 59.9 331.3 60.5 331.0C61.0 330.7 64.9 328.5 65.4 328.0C66.0 327.5 69.8 322.4 70.3 322.0C70.9 321.6 74.7 318.6 75.3 320.0C75.8 321.4 79.6 346.8 80.2 348.0C80.7 349.2 84.5 340.6 85.1 341.0C85.6 341.4 89.5 353.1 90.0 355.0C90.6 356.9 94.4 373.6 94.9 376.0C95.5 378.4 99.3 397.9 99.9 398.0C100.4 398.1 104.2 379.2 104.8 377.0C105.3 374.8 109.2 359.2 109.7 358.0C110.2 356.8 114.1 353.8 114.6 354.5C115.2 355.2 119.0 368.3 119.5 370.0C120.1 371.7 123.9 386.0 124.5 385.0C125.0 384.0 128.8 353.8 129.4 352.0C129.9 350.2 133.8 352.6 134.3 352.0C134.9 351.4 138.7 343.6 139.2 341.0C139.8 338.4 143.6 305.7 144.2 305.0C144.7 304.3 148.5 327.2 149.1 329.0C149.6 330.8 153.4 336.4 154.0 337.0C154.5 337.6 158.4 340.2 158.9 340.0C159.5 339.8 163.3 332.4 163.8 332.5C164.4 332.6 168.2 341.7 168.8 341.5C169.3 341.3 173.1 329.2 173.7 328.5C174.2 327.8 178.1 327.8 178.6 328.0C179.1 328.2 183.0 332.9 183.5 333.0C184.1 333.1 187.9 330.9 188.4 330.5C189.0 330.1 192.8 325.2 193.4 325.0C193.9 324.8 197.7 327.0 198.3 327.6C198.8 328.2 202.7 335.6 203.2 336.6C203.8 337.6 207.6 345.6 208.1 345.9C208.7 346.2 212.5 343.0 213.0 342.6C213.6 342.2 217.4 339.6 218.0 339.6C218.5 339.6 222.3 342.6 222.9 343.3C223.4 344.0 227.3 350.7 227.8 351.6C228.4 352.5 232.2 359.3 232.7 359.1C233.3 358.9 237.1 347.2 237.7 347.9C238.2 348.6 242.0 370.6 242.6 372.3C243.1 374.0 246.9 378.3 247.5 379.0C248.0 379.7 251.9 384.8 252.4 384.4C253.0 384.0 256.8 373.9 257.3 372.6C257.9 371.3 261.7 362.5 262.3 361.8C262.8 361.1 266.6 359.8 267.2 360.3C267.7 360.8 271.6 371.3 272.1 371.1C272.6 370.9 276.5 356.9 277.0 356.4C277.6 355.9 281.4 362.9 281.9 362.9C282.5 362.9 286.3 358.1 286.9 356.9C287.4 355.7 291.2 342.3 291.8 341.8C292.3 341.3 296.2 347.4 296.7 347.1C297.3 346.8 301.1 337.2 301.6 335.8C302.2 334.4 306.0 323.6 306.6 322.3C307.1 321.1 310.9 313.1 311.5 313.3C312.0 313.5 315.8 326.0 316.4 326.4C316.9 326.8 320.8 320.5 321.3 320.0C321.9 319.5 325.7 319.2 326.2 318.2C326.8 317.2 330.6 304.7 331.2 302.4C331.7 300.1 335.5 277.8 336.1 276.0C336.6 274.2 340.5 268.8 341.0 269.3C341.5 269.8 345.4 285.6 345.9 285.8C346.5 286.0 350.3 274.2 350.8 272.3C351.4 270.4 355.2 251.9 355.8 250.8C356.3 249.7 360.1 252.2 360.7 253.2C361.2 254.2 365.1 269.1 365.6 269.3C366.2 269.5 370.0 257.7 370.5 256.5C371.1 255.3 374.9 248.1 375.4 248.3C376.0 248.5 379.8 259.0 380.4 260.3C380.9 261.6 384.7 270.6 385.3 272.3C385.8 274.0 389.7 291.3 390.2 291.1C390.8 290.8 394.6 269.0 395.1 267.8C395.7 266.6 399.5 268.5 400.1 269.3C400.6 270.0 404.4 282.2 405.0 281.3C405.5 280.4 409.3 256.5 409.9 253.5C410.4 250.5 414.3 228.2 414.8 226.8C415.4 225.4 419.2 229.5 419.7 228.0C420.3 226.5 424.1 199.9 424.7 199.7C425.2 199.5 429.0 222.6 429.6 224.2C430.1 225.8 434.0 226.8 434.5 228.0C435.0 229.2 438.9 244.4 439.4 246.0C440.0 247.6 443.8 256.2 444.3 256.5C444.9 256.8 448.7 251.8 449.3 252.0C449.8 252.2 453.6 260.8 454.2 261.0C454.7 261.2 458.6 253.3 459.1 255.0C459.7 256.7 463.5 290.9 464.0 290.8C464.6 290.7 468.4 257.4 469.0 253.5C469.5 249.6 473.3 223.7 473.9 220.9C474.4 218.1 478.2 205.3 478.8 203.4C479.3 201.5 483.2 186.6 483.7 186.4C484.3 186.2 488.1 197.3 488.6 199.9C489.2 202.5 493.0 234.4 493.6 233.4C494.1 232.4 497.9 182.3 498.5 181.4C499.0 180.5 502.9 216.5 503.4 217.4C503.9 218.3 507.8 199.9 508.3 198.3C508.9 196.7 512.7 189.6 513.2 188.8C513.8 188.1 517.6 185.4 518.2 184.8C518.7 184.2 522.5 179.4 523.1 178.8C523.6 178.2 527.5 175.4 528.0 174.3C528.6 173.2 532.4 160.5 532.9 159.2C533.5 157.9 537.3 151.9 537.8 151.7C538.4 151.5 542.2 156.3 542.8 156.2C543.3 156.1 547.1 149.0 547.7 149.8C548.2 150.6 552.1 169.8 552.6 170.5C553.2 171.2 557.0 161.0 557.5 162.2C558.1 163.4 561.9 191.3 562.5 192.7C563.0 194.1 566.8 187.5 567.4 187.8C567.9 188.1 571.7 198.6 572.3 197.6C572.8 196.6 576.7 172.7 577.2 170.5C577.8 168.3 581.6 159.8 582.1 158.5C582.7 157.2 586.5 146.2 587.1 146.5C587.6 146.8 591.4 163.7 592.0 163.0C592.5 162.3 596.4 136.7 596.9 134.4C597.4 132.1 601.3 122.5 601.8 122.1C602.4 121.7 606.2 126.2 606.7 127.7C607.3 129.2 611.1 147.1 611.7 149.5C612.2 151.9 616.0 170.2 616.6 171.7C617.1 173.2 621.0 177.0 621.5 175.8C622.1 174.7 625.9 153.3 626.4 151.0C627.0 148.7 630.8 135.8 631.4 134.4C631.9 133.0 635.7 125.0 636.3 125.0C636.8 125.0 640.6 133.5 641.2 134.1C641.7 134.7 645.6 135.9 646.1 135.6C646.7 135.3 650.5 126.8 651.0 128.5C651.6 130.2 655.4 165.1 656.0 165.9C656.5 166.7 660.3 144.9 660.9 142.9C661.4 140.9 665.3 130.1 665.8 129.8C666.3 129.5 670.2 136.7 670.7 137.3C671.3 137.9 675.1 140.8 675.6 140.3C676.2 139.8 680.0 130.2 680.6 129.0C681.1 127.8 684.9 118.3 685.5 117.8C686.0 117.3 689.9 120.3 690.4 120.0C691.0 119.7 694.8 112.0 695.3 111.7C695.9 111.4 699.7 115.0 700.2 114.0C700.8 113.0 704.6 93.8 705.2 93.0C705.7 92.2 709.5 100.7 710.1 100.5C710.6 100.3 714.5 91.2 715.0 90.0C715.6 88.8 719.4 80.0 719.9 79.7C720.5 79.4 724.3 84.0 724.9 84.7C725.4 85.4 729.2 90.8 729.8 92.2C730.3 93.6 734.1 109.8 734.7 110.7C735.2 111.6 739.1 109.1 739.6 108.0C740.2 106.9 744.0 91.9 744.5 91.2C745.1 90.5 748.9 95.4 749.5 95.7C750.0 96.0 753.8 96.3 754.4 96.0C754.9 95.7 758.8 91.7 759.3 90.7C759.8 89.7 763.7 78.8 764.2 78.7C764.8 78.6 768.6 86.9 769.1 89.2C769.7 91.5 773.5 118.9 774.1 120.0C774.6 121.1 778.4 109.2 779.0 108.7C779.5 108.2 783.4 111.0 783.9 111.3C784.5 111.6 788.3 114.4 788.8 114.0C789.4 113.6 793.2 106.1 793.7 103.5C794.3 100.9 798.1 67.8 798.7 67.1C799.2 66.4 803.0 89.6 803.6 90.7C804.1 91.8 808.0 85.6 808.5 87.0C809.1 88.4 812.9 113.5 813.4 115.5C814.0 117.5 817.8 122.8 818.4 123.8C818.9 124.8 822.7 134.0 823.3 134.3C823.8 134.6 827.7 129.3 828.2 129.5C828.7 129.7 832.6 137.3 833.1 137.4C833.7 137.5 837.5 131.8 838.0 131.6C838.6 131.4 842.4 133.4 843.0 134.4C843.5 135.4 847.3 148.2 847.9 149.2C848.4 150.2 852.3 152.0 852.8 152.5C853.4 153.0 857.2 157.7 857.7 157.8C858.3 157.9 862.1 154.8 862.6 154.0C863.2 153.2 867.0 143.0 867.6 143.5C868.1 144.0 871.9 162.0 872.5 162.7C873.0 163.4 876.9 156.3 877.4 155.8C878.0 155.3 881.8 154.2 882.3 154.3C882.9 154.4 886.7 156.5 887.3 156.7C887.8 157.0 891.6 159.1 892.2 158.8C892.7 158.5 896.5 151.0 897.1 150.7C897.6 150.4 901.5 151.6 902.0 152.8C902.6 154.0 906.4 170.7 906.9 172.0C907.5 173.3 911.3 174.9 911.9 175.8C912.4 176.7 916.2 188.3 916.8 188.9C917.3 189.5 921.2 187.0 921.7 186.3C922.2 185.6 926.1 176.8 926.6 176.5C927.2 176.2 931.0 181.7 931.5 181.8C932.1 181.9 935.9 177.6 936.5 177.7C937.0 177.8 940.8 184.5 941.4 183.8C941.9 183.1 945.8 166.2 946.3 164.8C946.9 163.4 950.7 159.5 951.2 158.5C951.8 157.5 955.6 147.9 956.1 147.2C956.7 146.5 960.5 146.5 961.1 146.5C961.6 146.5 965.4 147.3 966.0 147.5C966.5 147.7 970.4 149.4 970.9 149.2C971.5 149.0 975.3 143.9 975.8 143.2C976.4 142.5 980.2 137.6 980.8 136.7C981.3 135.8 985.1 127.7 985.7 127.0C986.2 126.3 990.1 123.7 990.6 123.5C991.1 123.3 995.0 124.0 995.5 124.3C996.1 124.6 999.9 129.4 1000.4 128.8C1001.0 128.2 1004.8 114.3 1005.4 113.7C1005.9 113.1 1009.7 117.0 1010.3 117.9C1010.8 118.8 1014.7 129.2 1015.2 130.0C1015.8 130.8 1019.6 129.9 1020.1 131.7C1020.7 133.5 1024.5 160.4 1025.0 161.9C1025.6 163.4 1029.4 158.9 1030.0 157.9C1030.5 156.9 1034.3 143.6 1034.9 143.7C1035.4 143.8 1039.3 157.6 1039.8 159.4C1040.4 161.2 1044.2 175.0 1044.7 176.0C1045.3 177.0 1049.1 177.1 1049.7 177.5C1050.2 177.9 1054.0 182.6 1054.6 182.7C1055.1 182.8 1058.9 179.0 1059.5 179.0C1060.0 179.0 1063.9 183.6 1064.4 183.2C1065.0 182.8 1068.8 173.3 1069.3 171.5C1069.9 169.7 1073.7 151.3 1074.3 150.4C1074.8 149.5 1078.6 153.5 1079.2 154.6C1079.7 155.7 1083.6 168.1 1084.1 170.7C1084.6 173.3 1088.5 199.5 1089.0 201.2C1089.6 202.9 1093.4 199.8 1093.9 200.8C1094.5 201.8 1098.3 217.5 1098.9 219.2C1099.4 220.9 1103.2 229.8 1103.8 230.8C1104.3 231.8 1108.2 238.9 1108.7 237.9C1109.3 236.9 1113.1 215.0 1113.6 212.0C1114.2 209.0 1118.0 185.9 1118.5 184.7C1119.1 183.5 1122.9 190.4 1123.5 190.2C1124.0 190.0 1127.8 181.4 1128.4 180.5C1128.9 179.6 1132.8 174.6 1133.3 174.8C1133.9 175.0 1137.7 183.0 1138.2 184.2C1138.8 185.4 1142.6 195.3 1143.2 196.0C1143.7 196.7 1147.5 195.7 1148.1 197.3C1148.6 198.9 1152.5 224.6 1153.0 225.6C1153.5 226.6 1157.4 215.0 1157.9 215.0C1158.5 215.0 1162.3 225.5 1162.8 226.3C1163.4 227.1 1167.2 229.7 1167.8 228.9C1168.3 228.2 1172.1 214.3 1172.7 212.8C1173.2 211.3 1177.1 203.0 1177.6 201.2C1178.2 199.4 1182.0 181.3 1182.5 179.7C1183.1 178.1 1186.9 172.0 1187.4 171.8C1188.0 171.6 1191.8 175.2 1192.4 175.9C1192.9 176.6 1196.7 184.7 1197.3 184.7C1197.8 184.7 1201.7 177.3 1202.2 176.5C1202.8 175.7 1206.6 169.9 1207.1 169.4C1207.7 168.9 1211.5 169.1 1212.1 166.9C1212.6 164.7 1216.4 131.5 1217.0 130.5C1217.5 129.5 1221.3 146.8 1221.9 148.5C1222.4 150.2 1226.3 159.9 1226.8 160.5C1227.4 161.1 1231.2 160.1 1231.7 159.3C1232.3 158.5 1236.1 145.6 1236.7 145.5C1237.2 145.4 1241.0 157.0 1241.6 157.5C1242.1 158.0 1246.0 153.9 1246.5 153.7C1247.0 153.6 1250.9 154.5 1251.4 154.8C1252.0 155.1 1255.8 158.0 1256.3 158.3C1256.9 158.6 1260.7 160.1 1261.3 160.2C1261.8 160.3 1265.6 160.7 1266.2 159.8C1266.7 158.9 1270.6 145.2 1271.1 144.3C1271.7 143.4 1275.5 143.3 1276.0 143.2C1276.6 143.1 1280.4 141.6 1280.9 141.7C1281.5 141.8 1285.3 144.8 1285.9 145.2C1286.4 145.6 1290.2 148.6 1290.8 148.5C1291.3 148.4 1295.2 143.9 1295.7 143.2C1296.3 142.5 1300.1 138.3 1300.6 136.5C1301.2 134.7 1305.0 111.8 1305.6 110.9C1306.1 110.0 1309.9 120.6 1310.5 121.1C1311.0 121.6 1314.8 119.4 1315.4 119.9C1315.9 120.4 1319.8 127.8 1320.3 129.7C1320.9 131.6 1324.7 151.4 1325.2 153.7C1325.8 156.0 1329.6 171.0 1330.2 171.9C1330.7 172.8 1334.5 170.5 1335.1 169.7C1335.6 168.9 1339.5 157.5 1340.0 157.4C1340.5 157.3 1344.4 166.5 1344.9 167.9C1345.5 169.3 1349.3 179.8 1349.8 182.1C1350.4 184.3 1354.2 207.6 1354.8 208.4C1355.3 209.2 1359.1 196.3 1359.7 195.7C1360.2 195.1 1364.1 196.5 1364.6 197.1C1365.2 197.7 1369.0 206.0 1369.5 206.7C1370.1 207.4 1373.9 209.3 1374.5 208.9C1375.0 208.5 1378.8 198.4 1379.4 198.9C1379.9 199.4 1383.7 218.5 1384.3 218.4C1384.8 218.3 1388.7 198.1 1389.2 196.4C1389.8 194.7 1393.6 189.8 1394.1 188.5C1394.7 187.2 1398.5 174.4 1399.1 173.5C1399.6 172.6 1403.4 172.0 1404.0 172.6C1404.5 173.2 1408.4 183.6 1408.9 184.3C1409.4 185.1 1413.3 186.0 1413.8 186.1C1414.4 186.2 1418.2 186.7 1418.7 186.3C1419.3 186.0 1423.1 179.9 1423.7 179.8C1424.2 179.7 1428.0 183.8 1428.6 184.3C1429.1 184.8 1433.0 188.2 1433.5 188.5C1434.0 188.8 1436.8 189.9 1437.0 190.0 L1437.0 318.0 L16.2 318.0 Z" fill="url(#rg)" clip-path="url(#dn)"/><line x1="16" y1="319" x2="1436" y2="319" stroke="#808080" stroke-width="2" stroke-dasharray="2 6"/><path d="M16.2 309.0C16.5 309.8 20.6 321.9 21.1 323.0C21.7 324.1 25.5 328.5 26.0 329.0C26.6 329.5 30.4 331.7 31.0 332.0C31.5 332.3 35.3 334.1 35.9 335.0C36.4 335.9 40.3 347.5 40.8 347.5C41.4 347.5 45.2 335.8 45.7 335.0C46.3 334.2 50.1 333.1 50.6 333.0C51.2 332.9 55.0 334.1 55.6 334.0C56.1 333.9 59.9 331.3 60.5 331.0C61.0 330.7 64.9 328.5 65.4 328.0C66.0 327.5 69.8 322.4 70.3 322.0C70.9 321.6 74.7 318.6 75.3 320.0C75.8 321.4 79.6 346.8 80.2 348.0C80.7 349.2 84.5 340.6 85.1 341.0C85.6 341.4 89.5 353.1 90.0 355.0C90.6 356.9 94.4 373.6 94.9 376.0C95.5 378.4 99.3 397.9 99.9 398.0C100.4 398.1 104.2 379.2 104.8 377.0C105.3 374.8 109.2 359.2 109.7 358.0C110.2 356.8 114.1 353.8 114.6 354.5C115.2 355.2 119.0 368.3 119.5 370.0C120.1 371.7 123.9 386.0 124.5 385.0C125.0 384.0 128.8 353.8 129.4 352.0C129.9 350.2 133.8 352.6 134.3 352.0C134.9 351.4 138.7 343.6 139.2 341.0C139.8 338.4 143.6 305.7 144.2 305.0C144.7 304.3 148.5 327.2 149.1 329.0C149.6 330.8 153.4 336.4 154.0 337.0C154.5 337.6 158.4 340.2 158.9 340.0C159.5 339.8 163.3 332.4 163.8 332.5C164.4 332.6 168.2 341.7 168.8 341.5C169.3 341.3 173.1 329.2 173.7 328.5C174.2 327.8 178.1 327.8 178.6 328.0C179.1 328.2 183.0 332.9 183.5 333.0C184.1 333.1 187.9 330.9 188.4 330.5C189.0 330.1 192.8 325.2 193.4 325.0C193.9 324.8 197.7 327.0 198.3 327.6C198.8 328.2 202.7 335.6 203.2 336.6C203.8 337.6 207.6 345.6 208.1 345.9C208.7 346.2 212.5 343.0 213.0 342.6C213.6 342.2 217.4 339.6 218.0 339.6C218.5 339.6 222.3 342.6 222.9 343.3C223.4 344.0 227.3 350.7 227.8 351.6C228.4 352.5 232.2 359.3 232.7 359.1C233.3 358.9 237.1 347.2 237.7 347.9C238.2 348.6 242.0 370.6 242.6 372.3C243.1 374.0 246.9 378.3 247.5 379.0C248.0 379.7 251.9 384.8 252.4 384.4C253.0 384.0 256.8 373.9 257.3 372.6C257.9 371.3 261.7 362.5 262.3 361.8C262.8 361.1 266.6 359.8 267.2 360.3C267.7 360.8 271.6 371.3 272.1 371.1C272.6 370.9 276.5 356.9 277.0 356.4C277.6 355.9 281.4 362.9 281.9 362.9C282.5 362.9 286.3 358.1 286.9 356.9C287.4 355.7 291.2 342.3 291.8 341.8C292.3 341.3 296.2 347.4 296.7 347.1C297.3 346.8 301.1 337.2 301.6 335.8C302.2 334.4 306.0 323.6 306.6 322.3C307.1 321.1 310.9 313.1 311.5 313.3C312.0 313.5 315.8 326.0 316.4 326.4C316.9 326.8 320.8 320.5 321.3 320.0C321.9 319.5 325.7 319.2 326.2 318.2C326.8 317.2 330.6 304.7 331.2 302.4C331.7 300.1 335.5 277.8 336.1 276.0C336.6 274.2 340.5 268.8 341.0 269.3C341.5 269.8 345.4 285.6 345.9 285.8C346.5 286.0 350.3 274.2 350.8 272.3C351.4 270.4 355.2 251.9 355.8 250.8C356.3 249.7 360.1 252.2 360.7 253.2C361.2 254.2 365.1 269.1 365.6 269.3C366.2 269.5 370.0 257.7 370.5 256.5C371.1 255.3 374.9 248.1 375.4 248.3C376.0 248.5 379.8 259.0 380.4 260.3C380.9 261.6 384.7 270.6 385.3 272.3C385.8 274.0 389.7 291.3 390.2 291.1C390.8 290.8 394.6 269.0 395.1 267.8C395.7 266.6 399.5 268.5 400.1 269.3C400.6 270.0 404.4 282.2 405.0 281.3C405.5 280.4 409.3 256.5 409.9 253.5C410.4 250.5 414.3 228.2 414.8 226.8C415.4 225.4 419.2 229.5 419.7 228.0C420.3 226.5 424.1 199.9 424.7 199.7C425.2 199.5 429.0 222.6 429.6 224.2C430.1 225.8 434.0 226.8 434.5 228.0C435.0 229.2 438.9 244.4 439.4 246.0C440.0 247.6 443.8 256.2 444.3 256.5C444.9 256.8 448.7 251.8 449.3 252.0C449.8 252.2 453.6 260.8 454.2 261.0C454.7 261.2 458.6 253.3 459.1 255.0C459.7 256.7 463.5 290.9 464.0 290.8C464.6 290.7 468.4 257.4 469.0 253.5C469.5 249.6 473.3 223.7 473.9 220.9C474.4 218.1 478.2 205.3 478.8 203.4C479.3 201.5 483.2 186.6 483.7 186.4C484.3 186.2 488.1 197.3 488.6 199.9C489.2 202.5 493.0 234.4 493.6 233.4C494.1 232.4 497.9 182.3 498.5 181.4C499.0 180.5 502.9 216.5 503.4 217.4C503.9 218.3 507.8 199.9 508.3 198.3C508.9 196.7 512.7 189.6 513.2 188.8C513.8 188.1 517.6 185.4 518.2 184.8C518.7 184.2 522.5 179.4 523.1 178.8C523.6 178.2 527.5 175.4 528.0 174.3C528.6 173.2 532.4 160.5 532.9 159.2C533.5 157.9 537.3 151.9 537.8 151.7C538.4 151.5 542.2 156.3 542.8 156.2C543.3 156.1 547.1 149.0 547.7 149.8C548.2 150.6 552.1 169.8 552.6 170.5C553.2 171.2 557.0 161.0 557.5 162.2C558.1 163.4 561.9 191.3 562.5 192.7C563.0 194.1 566.8 187.5 567.4 187.8C567.9 188.1 571.7 198.6 572.3 197.6C572.8 196.6 576.7 172.7 577.2 170.5C577.8 168.3 581.6 159.8 582.1 158.5C582.7 157.2 586.5 146.2 587.1 146.5C587.6 146.8 591.4 163.7 592.0 163.0C592.5 162.3 596.4 136.7 596.9 134.4C597.4 132.1 601.3 122.5 601.8 122.1C602.4 121.7 606.2 126.2 606.7 127.7C607.3 129.2 611.1 147.1 611.7 149.5C612.2 151.9 616.0 170.2 616.6 171.7C617.1 173.2 621.0 177.0 621.5 175.8C622.1 174.7 625.9 153.3 626.4 151.0C627.0 148.7 630.8 135.8 631.4 134.4C631.9 133.0 635.7 125.0 636.3 125.0C636.8 125.0 640.6 133.5 641.2 134.1C641.7 134.7 645.6 135.9 646.1 135.6C646.7 135.3 650.5 126.8 651.0 128.5C651.6 130.2 655.4 165.1 656.0 165.9C656.5 166.7 660.3 144.9 660.9 142.9C661.4 140.9 665.3 130.1 665.8 129.8C666.3 129.5 670.2 136.7 670.7 137.3C671.3 137.9 675.1 140.8 675.6 140.3C676.2 139.8 680.0 130.2 680.6 129.0C681.1 127.8 684.9 118.3 685.5 117.8C686.0 117.3 689.9 120.3 690.4 120.0C691.0 119.7 694.8 112.0 695.3 111.7C695.9 111.4 699.7 115.0 700.2 114.0C700.8 113.0 704.6 93.8 705.2 93.0C705.7 92.2 709.5 100.7 710.1 100.5C710.6 100.3 714.5 91.2 715.0 90.0C715.6 88.8 719.4 80.0 719.9 79.7C720.5 79.4 724.3 84.0 724.9 84.7C725.4 85.4 729.2 90.8 729.8 92.2C730.3 93.6 734.1 109.8 734.7 110.7C735.2 111.6 739.1 109.1 739.6 108.0C740.2 106.9 744.0 91.9 744.5 91.2C745.1 90.5 748.9 95.4 749.5 95.7C750.0 96.0 753.8 96.3 754.4 96.0C754.9 95.7 758.8 91.7 759.3 90.7C759.8 89.7 763.7 78.8 764.2 78.7C764.8 78.6 768.6 86.9 769.1 89.2C769.7 91.5 773.5 118.9 774.1 120.0C774.6 121.1 778.4 109.2 779.0 108.7C779.5 108.2 783.4 111.0 783.9 111.3C784.5 111.6 788.3 114.4 788.8 114.0C789.4 113.6 793.2 106.1 793.7 103.5C794.3 100.9 798.1 67.8 798.7 67.1C799.2 66.4 803.0 89.6 803.6 90.7C804.1 91.8 808.0 85.6 808.5 87.0C809.1 88.4 812.9 113.5 813.4 115.5C814.0 117.5 817.8 122.8 818.4 123.8C818.9 124.8 822.7 134.0 823.3 134.3C823.8 134.6 827.7 129.3 828.2 129.5C828.7 129.7 832.6 137.3 833.1 137.4C833.7 137.5 837.5 131.8 838.0 131.6C838.6 131.4 842.4 133.4 843.0 134.4C843.5 135.4 847.3 148.2 847.9 149.2C848.4 150.2 852.3 152.0 852.8 152.5C853.4 153.0 857.2 157.7 857.7 157.8C858.3 157.9 862.1 154.8 862.6 154.0C863.2 153.2 867.0 143.0 867.6 143.5C868.1 144.0 871.9 162.0 872.5 162.7C873.0 163.4 876.9 156.3 877.4 155.8C878.0 155.3 881.8 154.2 882.3 154.3C882.9 154.4 886.7 156.5 887.3 156.7C887.8 157.0 891.6 159.1 892.2 158.8C892.7 158.5 896.5 151.0 897.1 150.7C897.6 150.4 901.5 151.6 902.0 152.8C902.6 154.0 906.4 170.7 906.9 172.0C907.5 173.3 911.3 174.9 911.9 175.8C912.4 176.7 916.2 188.3 916.8 188.9C917.3 189.5 921.2 187.0 921.7 186.3C922.2 185.6 926.1 176.8 926.6 176.5C927.2 176.2 931.0 181.7 931.5 181.8C932.1 181.9 935.9 177.6 936.5 177.7C937.0 177.8 940.8 184.5 941.4 183.8C941.9 183.1 945.8 166.2 946.3 164.8C946.9 163.4 950.7 159.5 951.2 158.5C951.8 157.5 955.6 147.9 956.1 147.2C956.7 146.5 960.5 146.5 961.1 146.5C961.6 146.5 965.4 147.3 966.0 147.5C966.5 147.7 970.4 149.4 970.9 149.2C971.5 149.0 975.3 143.9 975.8 143.2C976.4 142.5 980.2 137.6 980.8 136.7C981.3 135.8 985.1 127.7 985.7 127.0C986.2 126.3 990.1 123.7 990.6 123.5C991.1 123.3 995.0 124.0 995.5 124.3C996.1 124.6 999.9 129.4 1000.4 128.8C1001.0 128.2 1004.8 114.3 1005.4 113.7C1005.9 113.1 1009.7 117.0 1010.3 117.9C1010.8 118.8 1014.7 129.2 1015.2 130.0C1015.8 130.8 1019.6 129.9 1020.1 131.7C1020.7 133.5 1024.5 160.4 1025.0 161.9C1025.6 163.4 1029.4 158.9 1030.0 157.9C1030.5 156.9 1034.3 143.6 1034.9 143.7C1035.4 143.8 1039.3 157.6 1039.8 159.4C1040.4 161.2 1044.2 175.0 1044.7 176.0C1045.3 177.0 1049.1 177.1 1049.7 177.5C1050.2 177.9 1054.0 182.6 1054.6 182.7C1055.1 182.8 1058.9 179.0 1059.5 179.0C1060.0 179.0 1063.9 183.6 1064.4 183.2C1065.0 182.8 1068.8 173.3 1069.3 171.5C1069.9 169.7 1073.7 151.3 1074.3 150.4C1074.8 149.5 1078.6 153.5 1079.2 154.6C1079.7 155.7 1083.6 168.1 1084.1 170.7C1084.6 173.3 1088.5 199.5 1089.0 201.2C1089.6 202.9 1093.4 199.8 1093.9 200.8C1094.5 201.8 1098.3 217.5 1098.9 219.2C1099.4 220.9 1103.2 229.8 1103.8 230.8C1104.3 231.8 1108.2 238.9 1108.7 237.9C1109.3 236.9 1113.1 215.0 1113.6 212.0C1114.2 209.0 1118.0 185.9 1118.5 184.7C1119.1 183.5 1122.9 190.4 1123.5 190.2C1124.0 190.0 1127.8 181.4 1128.4 180.5C1128.9 179.6 1132.8 174.6 1133.3 174.8C1133.9 175.0 1137.7 183.0 1138.2 184.2C1138.8 185.4 1142.6 195.3 1143.2 196.0C1143.7 196.7 1147.5 195.7 1148.1 197.3C1148.6 198.9 1152.5 224.6 1153.0 225.6C1153.5 226.6 1157.4 215.0 1157.9 215.0C1158.5 215.0 1162.3 225.5 1162.8 226.3C1163.4 227.1 1167.2 229.7 1167.8 228.9C1168.3 228.2 1172.1 214.3 1172.7 212.8C1173.2 211.3 1177.1 203.0 1177.6 201.2C1178.2 199.4 1182.0 181.3 1182.5 179.7C1183.1 178.1 1186.9 172.0 1187.4 171.8C1188.0 171.6 1191.8 175.2 1192.4 175.9C1192.9 176.6 1196.7 184.7 1197.3 184.7C1197.8 184.7 1201.7 177.3 1202.2 176.5C1202.8 175.7 1206.6 169.9 1207.1 169.4C1207.7 168.9 1211.5 169.1 1212.1 166.9C1212.6 164.7 1216.4 131.5 1217.0 130.5C1217.5 129.5 1221.3 146.8 1221.9 148.5C1222.4 150.2 1226.3 159.9 1226.8 160.5C1227.4 161.1 1231.2 160.1 1231.7 159.3C1232.3 158.5 1236.1 145.6 1236.7 145.5C1237.2 145.4 1241.0 157.0 1241.6 157.5C1242.1 158.0 1246.0 153.9 1246.5 153.7C1247.0 153.6 1250.9 154.5 1251.4 154.8C1252.0 155.1 1255.8 158.0 1256.3 158.3C1256.9 158.6 1260.7 160.1 1261.3 160.2C1261.8 160.3 1265.6 160.7 1266.2 159.8C1266.7 158.9 1270.6 145.2 1271.1 144.3C1271.7 143.4 1275.5 143.3 1276.0 143.2C1276.6 143.1 1280.4 141.6 1280.9 141.7C1281.5 141.8 1285.3 144.8 1285.9 145.2C1286.4 145.6 1290.2 148.6 1290.8 148.5C1291.3 148.4 1295.2 143.9 1295.7 143.2C1296.3 142.5 1300.1 138.3 1300.6 136.5C1301.2 134.7 1305.0 111.8 1305.6 110.9C1306.1 110.0 1309.9 120.6 1310.5 121.1C1311.0 121.6 1314.8 119.4 1315.4 119.9C1315.9 120.4 1319.8 127.8 1320.3 129.7C1320.9 131.6 1324.7 151.4 1325.2 153.7C1325.8 156.0 1329.6 171.0 1330.2 171.9C1330.7 172.8 1334.5 170.5 1335.1 169.7C1335.6 168.9 1339.5 157.5 1340.0 157.4C1340.5 157.3 1344.4 166.5 1344.9 167.9C1345.5 169.3 1349.3 179.8 1349.8 182.1C1350.4 184.3 1354.2 207.6 1354.8 208.4C1355.3 209.2 1359.1 196.3 1359.7 195.7C1360.2 195.1 1364.1 196.5 1364.6 197.1C1365.2 197.7 1369.0 206.0 1369.5 206.7C1370.1 207.4 1373.9 209.3 1374.5 208.9C1375.0 208.5 1378.8 198.4 1379.4 198.9C1379.9 199.4 1383.7 218.5 1384.3 218.4C1384.8 218.3 1388.7 198.1 1389.2 196.4C1389.8 194.7 1393.6 189.8 1394.1 188.5C1394.7 187.2 1398.5 174.4 1399.1 173.5C1399.6 172.6 1403.4 172.0 1404.0 172.6C1404.5 173.2 1408.4 183.6 1408.9 184.3C1409.4 185.1 1413.3 186.0 1413.8 186.1C1414.4 186.2 1418.2 186.7 1418.7 186.3C1419.3 186.0 1423.1 179.9 1423.7 179.8C1424.2 179.7 1428.0 183.8 1428.6 184.3C1429.1 184.8 1433.0 188.2 1433.5 188.5C1434.0 188.8 1436.8 189.9 1437.0 190.0" fill="none" stroke="#16C784" stroke-width="3.8" stroke-linejoin="round" stroke-linecap="round" clip-path="url(#up)"/><path d="M16.2 309.0C16.5 309.8 20.6 321.9 21.1 323.0C21.7 324.1 25.5 328.5 26.0 329.0C26.6 329.5 30.4 331.7 31.0 332.0C31.5 332.3 35.3 334.1 35.9 335.0C36.4 335.9 40.3 347.5 40.8 347.5C41.4 347.5 45.2 335.8 45.7 335.0C46.3 334.2 50.1 333.1 50.6 333.0C51.2 332.9 55.0 334.1 55.6 334.0C56.1 333.9 59.9 331.3 60.5 331.0C61.0 330.7 64.9 328.5 65.4 328.0C66.0 327.5 69.8 322.4 70.3 322.0C70.9 321.6 74.7 318.6 75.3 320.0C75.8 321.4 79.6 346.8 80.2 348.0C80.7 349.2 84.5 340.6 85.1 341.0C85.6 341.4 89.5 353.1 90.0 355.0C90.6 356.9 94.4 373.6 94.9 376.0C95.5 378.4 99.3 397.9 99.9 398.0C100.4 398.1 104.2 379.2 104.8 377.0C105.3 374.8 109.2 359.2 109.7 358.0C110.2 356.8 114.1 353.8 114.6 354.5C115.2 355.2 119.0 368.3 119.5 370.0C120.1 371.7 123.9 386.0 124.5 385.0C125.0 384.0 128.8 353.8 129.4 352.0C129.9 350.2 133.8 352.6 134.3 352.0C134.9 351.4 138.7 343.6 139.2 341.0C139.8 338.4 143.6 305.7 144.2 305.0C144.7 304.3 148.5 327.2 149.1 329.0C149.6 330.8 153.4 336.4 154.0 337.0C154.5 337.6 158.4 340.2 158.9 340.0C159.5 339.8 163.3 332.4 163.8 332.5C164.4 332.6 168.2 341.7 168.8 341.5C169.3 341.3 173.1 329.2 173.7 328.5C174.2 327.8 178.1 327.8 178.6 328.0C179.1 328.2 183.0 332.9 183.5 333.0C184.1 333.1 187.9 330.9 188.4 330.5C189.0 330.1 192.8 325.2 193.4 325.0C193.9 324.8 197.7 327.0 198.3 327.6C198.8 328.2 202.7 335.6 203.2 336.6C203.8 337.6 207.6 345.6 208.1 345.9C208.7 346.2 212.5 343.0 213.0 342.6C213.6 342.2 217.4 339.6 218.0 339.6C218.5 339.6 222.3 342.6 222.9 343.3C223.4 344.0 227.3 350.7 227.8 351.6C228.4 352.5 232.2 359.3 232.7 359.1C233.3 358.9 237.1 347.2 237.7 347.9C238.2 348.6 242.0 370.6 242.6 372.3C243.1 374.0 246.9 378.3 247.5 379.0C248.0 379.7 251.9 384.8 252.4 384.4C253.0 384.0 256.8 373.9 257.3 372.6C257.9 371.3 261.7 362.5 262.3 361.8C262.8 361.1 266.6 359.8 267.2 360.3C267.7 360.8 271.6 371.3 272.1 371.1C272.6 370.9 276.5 356.9 277.0 356.4C277.6 355.9 281.4 362.9 281.9 362.9C282.5 362.9 286.3 358.1 286.9 356.9C287.4 355.7 291.2 342.3 291.8 341.8C292.3 341.3 296.2 347.4 296.7 347.1C297.3 346.8 301.1 337.2 301.6 335.8C302.2 334.4 306.0 323.6 306.6 322.3C307.1 321.1 310.9 313.1 311.5 313.3C312.0 313.5 315.8 326.0 316.4 326.4C316.9 326.8 320.8 320.5 321.3 320.0C321.9 319.5 325.7 319.2 326.2 318.2C326.8 317.2 330.6 304.7 331.2 302.4C331.7 300.1 335.5 277.8 336.1 276.0C336.6 274.2 340.5 268.8 341.0 269.3C341.5 269.8 345.4 285.6 345.9 285.8C346.5 286.0 350.3 274.2 350.8 272.3C351.4 270.4 355.2 251.9 355.8 250.8C356.3 249.7 360.1 252.2 360.7 253.2C361.2 254.2 365.1 269.1 365.6 269.3C366.2 269.5 370.0 257.7 370.5 256.5C371.1 255.3 374.9 248.1 375.4 248.3C376.0 248.5 379.8 259.0 380.4 260.3C380.9 261.6 384.7 270.6 385.3 272.3C385.8 274.0 389.7 291.3 390.2 291.1C390.8 290.8 394.6 269.0 395.1 267.8C395.7 266.6 399.5 268.5 400.1 269.3C400.6 270.0 404.4 282.2 405.0 281.3C405.5 280.4 409.3 256.5 409.9 253.5C410.4 250.5 414.3 228.2 414.8 226.8C415.4 225.4 419.2 229.5 419.7 228.0C420.3 226.5 424.1 199.9 424.7 199.7C425.2 199.5 429.0 222.6 429.6 224.2C430.1 225.8 434.0 226.8 434.5 228.0C435.0 229.2 438.9 244.4 439.4 246.0C440.0 247.6 443.8 256.2 444.3 256.5C444.9 256.8 448.7 251.8 449.3 252.0C449.8 252.2 453.6 260.8 454.2 261.0C454.7 261.2 458.6 253.3 459.1 255.0C459.7 256.7 463.5 290.9 464.0 290.8C464.6 290.7 468.4 257.4 469.0 253.5C469.5 249.6 473.3 223.7 473.9 220.9C474.4 218.1 478.2 205.3 478.8 203.4C479.3 201.5 483.2 186.6 483.7 186.4C484.3 186.2 488.1 197.3 488.6 199.9C489.2 202.5 493.0 234.4 493.6 233.4C494.1 232.4 497.9 182.3 498.5 181.4C499.0 180.5 502.9 216.5 503.4 217.4C503.9 218.3 507.8 199.9 508.3 198.3C508.9 196.7 512.7 189.6 513.2 188.8C513.8 188.1 517.6 185.4 518.2 184.8C518.7 184.2 522.5 179.4 523.1 178.8C523.6 178.2 527.5 175.4 528.0 174.3C528.6 173.2 532.4 160.5 532.9 159.2C533.5 157.9 537.3 151.9 537.8 151.7C538.4 151.5 542.2 156.3 542.8 156.2C543.3 156.1 547.1 149.0 547.7 149.8C548.2 150.6 552.1 169.8 552.6 170.5C553.2 171.2 557.0 161.0 557.5 162.2C558.1 163.4 561.9 191.3 562.5 192.7C563.0 194.1 566.8 187.5 567.4 187.8C567.9 188.1 571.7 198.6 572.3 197.6C572.8 196.6 576.7 172.7 577.2 170.5C577.8 168.3 581.6 159.8 582.1 158.5C582.7 157.2 586.5 146.2 587.1 146.5C587.6 146.8 591.4 163.7 592.0 163.0C592.5 162.3 596.4 136.7 596.9 134.4C597.4 132.1 601.3 122.5 601.8 122.1C602.4 121.7 606.2 126.2 606.7 127.7C607.3 129.2 611.1 147.1 611.7 149.5C612.2 151.9 616.0 170.2 616.6 171.7C617.1 173.2 621.0 177.0 621.5 175.8C622.1 174.7 625.9 153.3 626.4 151.0C627.0 148.7 630.8 135.8 631.4 134.4C631.9 133.0 635.7 125.0 636.3 125.0C636.8 125.0 640.6 133.5 641.2 134.1C641.7 134.7 645.6 135.9 646.1 135.6C646.7 135.3 650.5 126.8 651.0 128.5C651.6 130.2 655.4 165.1 656.0 165.9C656.5 166.7 660.3 144.9 660.9 142.9C661.4 140.9 665.3 130.1 665.8 129.8C666.3 129.5 670.2 136.7 670.7 137.3C671.3 137.9 675.1 140.8 675.6 140.3C676.2 139.8 680.0 130.2 680.6 129.0C681.1 127.8 684.9 118.3 685.5 117.8C686.0 117.3 689.9 120.3 690.4 120.0C691.0 119.7 694.8 112.0 695.3 111.7C695.9 111.4 699.7 115.0 700.2 114.0C700.8 113.0 704.6 93.8 705.2 93.0C705.7 92.2 709.5 100.7 710.1 100.5C710.6 100.3 714.5 91.2 715.0 90.0C715.6 88.8 719.4 80.0 719.9 79.7C720.5 79.4 724.3 84.0 724.9 84.7C725.4 85.4 729.2 90.8 729.8 92.2C730.3 93.6 734.1 109.8 734.7 110.7C735.2 111.6 739.1 109.1 739.6 108.0C740.2 106.9 744.0 91.9 744.5 91.2C745.1 90.5 748.9 95.4 749.5 95.7C750.0 96.0 753.8 96.3 754.4 96.0C754.9 95.7 758.8 91.7 759.3 90.7C759.8 89.7 763.7 78.8 764.2 78.7C764.8 78.6 768.6 86.9 769.1 89.2C769.7 91.5 773.5 118.9 774.1 120.0C774.6 121.1 778.4 109.2 779.0 108.7C779.5 108.2 783.4 111.0 783.9 111.3C784.5 111.6 788.3 114.4 788.8 114.0C789.4 113.6 793.2 106.1 793.7 103.5C794.3 100.9 798.1 67.8 798.7 67.1C799.2 66.4 803.0 89.6 803.6 90.7C804.1 91.8 808.0 85.6 808.5 87.0C809.1 88.4 812.9 113.5 813.4 115.5C814.0 117.5 817.8 122.8 818.4 123.8C818.9 124.8 822.7 134.0 823.3 134.3C823.8 134.6 827.7 129.3 828.2 129.5C828.7 129.7 832.6 137.3 833.1 137.4C833.7 137.5 837.5 131.8 838.0 131.6C838.6 131.4 842.4 133.4 843.0 134.4C843.5 135.4 847.3 148.2 847.9 149.2C848.4 150.2 852.3 152.0 852.8 152.5C853.4 153.0 857.2 157.7 857.7 157.8C858.3 157.9 862.1 154.8 862.6 154.0C863.2 153.2 867.0 143.0 867.6 143.5C868.1 144.0 871.9 162.0 872.5 162.7C873.0 163.4 876.9 156.3 877.4 155.8C878.0 155.3 881.8 154.2 882.3 154.3C882.9 154.4 886.7 156.5 887.3 156.7C887.8 157.0 891.6 159.1 892.2 158.8C892.7 158.5 896.5 151.0 897.1 150.7C897.6 150.4 901.5 151.6 902.0 152.8C902.6 154.0 906.4 170.7 906.9 172.0C907.5 173.3 911.3 174.9 911.9 175.8C912.4 176.7 916.2 188.3 916.8 188.9C917.3 189.5 921.2 187.0 921.7 186.3C922.2 185.6 926.1 176.8 926.6 176.5C927.2 176.2 931.0 181.7 931.5 181.8C932.1 181.9 935.9 177.6 936.5 177.7C937.0 177.8 940.8 184.5 941.4 183.8C941.9 183.1 945.8 166.2 946.3 164.8C946.9 163.4 950.7 159.5 951.2 158.5C951.8 157.5 955.6 147.9 956.1 147.2C956.7 146.5 960.5 146.5 961.1 146.5C961.6 146.5 965.4 147.3 966.0 147.5C966.5 147.7 970.4 149.4 970.9 149.2C971.5 149.0 975.3 143.9 975.8 143.2C976.4 142.5 980.2 137.6 980.8 136.7C981.3 135.8 985.1 127.7 985.7 127.0C986.2 126.3 990.1 123.7 990.6 123.5C991.1 123.3 995.0 124.0 995.5 124.3C996.1 124.6 999.9 129.4 1000.4 128.8C1001.0 128.2 1004.8 114.3 1005.4 113.7C1005.9 113.1 1009.7 117.0 1010.3 117.9C1010.8 118.8 1014.7 129.2 1015.2 130.0C1015.8 130.8 1019.6 129.9 1020.1 131.7C1020.7 133.5 1024.5 160.4 1025.0 161.9C1025.6 163.4 1029.4 158.9 1030.0 157.9C1030.5 156.9 1034.3 143.6 1034.9 143.7C1035.4 143.8 1039.3 157.6 1039.8 159.4C1040.4 161.2 1044.2 175.0 1044.7 176.0C1045.3 177.0 1049.1 177.1 1049.7 177.5C1050.2 177.9 1054.0 182.6 1054.6 182.7C1055.1 182.8 1058.9 179.0 1059.5 179.0C1060.0 179.0 1063.9 183.6 1064.4 183.2C1065.0 182.8 1068.8 173.3 1069.3 171.5C1069.9 169.7 1073.7 151.3 1074.3 150.4C1074.8 149.5 1078.6 153.5 1079.2 154.6C1079.7 155.7 1083.6 168.1 1084.1 170.7C1084.6 173.3 1088.5 199.5 1089.0 201.2C1089.6 202.9 1093.4 199.8 1093.9 200.8C1094.5 201.8 1098.3 217.5 1098.9 219.2C1099.4 220.9 1103.2 229.8 1103.8 230.8C1104.3 231.8 1108.2 238.9 1108.7 237.9C1109.3 236.9 1113.1 215.0 1113.6 212.0C1114.2 209.0 1118.0 185.9 1118.5 184.7C1119.1 183.5 1122.9 190.4 1123.5 190.2C1124.0 190.0 1127.8 181.4 1128.4 180.5C1128.9 179.6 1132.8 174.6 1133.3 174.8C1133.9 175.0 1137.7 183.0 1138.2 184.2C1138.8 185.4 1142.6 195.3 1143.2 196.0C1143.7 196.7 1147.5 195.7 1148.1 197.3C1148.6 198.9 1152.5 224.6 1153.0 225.6C1153.5 226.6 1157.4 215.0 1157.9 215.0C1158.5 215.0 1162.3 225.5 1162.8 226.3C1163.4 227.1 1167.2 229.7 1167.8 228.9C1168.3 228.2 1172.1 214.3 1172.7 212.8C1173.2 211.3 1177.1 203.0 1177.6 201.2C1178.2 199.4 1182.0 181.3 1182.5 179.7C1183.1 178.1 1186.9 172.0 1187.4 171.8C1188.0 171.6 1191.8 175.2 1192.4 175.9C1192.9 176.6 1196.7 184.7 1197.3 184.7C1197.8 184.7 1201.7 177.3 1202.2 176.5C1202.8 175.7 1206.6 169.9 1207.1 169.4C1207.7 168.9 1211.5 169.1 1212.1 166.9C1212.6 164.7 1216.4 131.5 1217.0 130.5C1217.5 129.5 1221.3 146.8 1221.9 148.5C1222.4 150.2 1226.3 159.9 1226.8 160.5C1227.4 161.1 1231.2 160.1 1231.7 159.3C1232.3 158.5 1236.1 145.6 1236.7 145.5C1237.2 145.4 1241.0 157.0 1241.6 157.5C1242.1 158.0 1246.0 153.9 1246.5 153.7C1247.0 153.6 1250.9 154.5 1251.4 154.8C1252.0 155.1 1255.8 158.0 1256.3 158.3C1256.9 158.6 1260.7 160.1 1261.3 160.2C1261.8 160.3 1265.6 160.7 1266.2 159.8C1266.7 158.9 1270.6 145.2 1271.1 144.3C1271.7 143.4 1275.5 143.3 1276.0 143.2C1276.6 143.1 1280.4 141.6 1280.9 141.7C1281.5 141.8 1285.3 144.8 1285.9 145.2C1286.4 145.6 1290.2 148.6 1290.8 148.5C1291.3 148.4 1295.2 143.9 1295.7 143.2C1296.3 142.5 1300.1 138.3 1300.6 136.5C1301.2 134.7 1305.0 111.8 1305.6 110.9C1306.1 110.0 1309.9 120.6 1310.5 121.1C1311.0 121.6 1314.8 119.4 1315.4 119.9C1315.9 120.4 1319.8 127.8 1320.3 129.7C1320.9 131.6 1324.7 151.4 1325.2 153.7C1325.8 156.0 1329.6 171.0 1330.2 171.9C1330.7 172.8 1334.5 170.5 1335.1 169.7C1335.6 168.9 1339.5 157.5 1340.0 157.4C1340.5 157.3 1344.4 166.5 1344.9 167.9C1345.5 169.3 1349.3 179.8 1349.8 182.1C1350.4 184.3 1354.2 207.6 1354.8 208.4C1355.3 209.2 1359.1 196.3 1359.7 195.7C1360.2 195.1 1364.1 196.5 1364.6 197.1C1365.2 197.7 1369.0 206.0 1369.5 206.7C1370.1 207.4 1373.9 209.3 1374.5 208.9C1375.0 208.5 1378.8 198.4 1379.4 198.9C1379.9 199.4 1383.7 218.5 1384.3 218.4C1384.8 218.3 1388.7 198.1 1389.2 196.4C1389.8 194.7 1393.6 189.8 1394.1 188.5C1394.7 187.2 1398.5 174.4 1399.1 173.5C1399.6 172.6 1403.4 172.0 1404.0 172.6C1404.5 173.2 1408.4 183.6 1408.9 184.3C1409.4 185.1 1413.3 186.0 1413.8 186.1C1414.4 186.2 1418.2 186.7 1418.7 186.3C1419.3 186.0 1423.1 179.9 1423.7 179.8C1424.2 179.7 1428.0 183.8 1428.6 184.3C1429.1 184.8 1433.0 188.2 1433.5 188.5C1434.0 188.8 1436.8 189.9 1437.0 190.0" fill="none" stroke="#EA3943" stroke-width="3.8" stroke-linejoin="round" stroke-linecap="round" clip-path="url(#dn)"/><rect x="16" y="18" width="1420" height="2" fill="#E6E6E6"/><rect x="14" y="18" width="2" height="477.5" fill="#F0F0F1"/><rect x="1436" y="18" width="2" height="477.5" fill="#F0F0F1"/><path d="M20.5 300H122V336a8 8 0 0 1 -8 8H20.5z" fill="#fff" fill-opacity="0.92"/><text transform="translate(26.89 329.8) scale(1.0352 1)" font-size="22.7" fill="#616E85" stroke="#616E85" stroke-width="0.25">102.04K</text><text transform="translate(1446.79 127.5) scale(1.0352 1)" font-size="22.7" fill="#808A9D" stroke="#808A9D" stroke-width="0.25">104.00K</text><text transform="translate(1446.79 229.5) scale(1.0352 1)" font-size="22.7" fill="#808A9D" stroke="#808A9D" stroke-width="0.25">103.00K</text><text transform="translate(1446.79 329.6) scale(1.0352 1)" font-size="22.7" fill="#808A9D" stroke="#808A9D" stroke-width="0.25">102.00K</text><text transform="translate(1446.87 429.8) scale(0.9867 1)" font-size="22.7" fill="#808A9D" stroke="#808A9D" stroke-width="0.25">101.00K</text><rect x="1436.3" y="164.2" width="112" height="51.6" rx="6" fill="#16C784"/><text transform="translate(1447.28 197.5) scale(0.9855 1)" font-size="22.7" fill="#fff" stroke="#fff" stroke-width="0.25">103.31K</text><text transform="translate(89.83 533.9) scale(1.0683 1)" font-size="22.7" fill="#808A9D" stroke="#808A9D" stroke-width="0.25">9:00 AM</text><text transform="translate(261.72 533.9) scale(1.0190 1)" font-size="22.7" fill="#808A9D" stroke="#808A9D" stroke-width="0.25">12:00 PM</text><text transform="translate(445.29 533.9) scale(1.0418 1)" font-size="22.7" fill="#808A9D" stroke="#808A9D" stroke-width="0.25">3:00 PM</text><text transform="translate(622.02 533.9) scale(1.0450 1)" font-size="22.7" fill="#808A9D" stroke="#808A9D" stroke-width="0.25">6:00 PM</text><text transform="translate(799.46 533.9) scale(1.0434 1)" font-size="22.7" fill="#808A9D" stroke="#808A9D" stroke-width="0.25">9:00 PM</text><text transform="translate(989.25 533.9) scale(1.0237 1)" font-size="22.7" fill="#808A9D" stroke="#808A9D" stroke-width="0.25">6 Nov</text><text transform="translate(1153.67 533.9) scale(1.0667 1)" font-size="22.7" fill="#808A9D" stroke="#808A9D" stroke-width="0.25">3:00 AM</text><text transform="translate(1330.39 533.9) scale(1.0737 1)" font-size="22.7" fill="#808A9D" stroke="#808A9D" stroke-width="0.25">6:00 AM</text><g fill="#A6B0C3"><rect x="25.6" y="545.9" width="92.3" height="50.2" rx="25.1"/><path d="M17.1 570L27.4 559.7L30.4 555L34 552.4V587.6L30.4 585L27.4 580.3Z" stroke="#A6B0C3" stroke-width="1.2" stroke-linejoin="round"/></g><g fill="none" stroke="#fff" stroke-width="2.5" stroke-linecap="round" stroke-linejoin="round"><path d="M39.3 564.2A10 10 0 1 1 40.6 576.3"/><path d="M48 562.6V569.6L53.2 572.7"/></g><path d="M35.6 565.6L42 567.8L37.6 570.6z" fill="#fff" stroke="#fff" stroke-width="1.4" stroke-linejoin="round"/><text transform="translate(67.24 577.8) scale(1.0071 1)" font-size="22.7" fill="#fff" stroke="#fff" stroke-width="0.25">125</text><g fill="#3861FB"><rect x="1262" y="548" width="172" height="48" rx="24"/><path d="M1339.5 549L1346.9 541.2a1.6 1.6 0 0 1 2.2 0L1356.5 549z"/></g><path d="M1298.7 580.4A11.8 11.8 0 0 1 1284.6 582.4L1278.3 584.2L1279.6 578A11.8 11.8 0 1 1 1301.7 572C1301.7 577.6 1297.2 577.6 1297.2 573.5V570C1297.2 567.2 1295 567 1293.8 569L1290.6 574.4C1289.8 575.7 1289.3 575.4 1289.3 574V569.6C1289.3 567 1287.5 566.8 1286.3 568.8L1282.8 574.9" fill="none" stroke="#fff" stroke-width="2.9" stroke-linecap="round" stroke-linejoin="round"/><text transform="translate(1310.70 580) scale(1.0295 1)" font-size="22.7" fill="#fff" stroke="#fff" stroke-width="0.5">Analyze</text><path d="M1404.6 566.8L1411.4 574L1404.6 581.2" fill="none" stroke="#fff" stroke-width="2.4" stroke-linecap="round" stroke-linejoin="round"/><rect x="16" y="604" width="1420" height="2" fill="#F4F5F7"/><rect x="150.25" y="606" width="1.5" height="79" fill="#F2F4F7"/><rect x="336.25" y="606" width="1.5" height="79" fill="#F2F4F7"/><rect x="522.25" y="606" width="1.5" height="79" fill="#F2F4F7"/><rect x="706.75" y="606" width="1.5" height="79" fill="#F2F4F7"/><rect x="892.25" y="606" width="1.5" height="79" fill="#F2F4F7"/><rect x="1078.25" y="606" width="1.5" height="79" fill="#F2F4F7"/><rect x="1262.25" y="606" width="1.5" height="79" fill="#F2F4F7"/><path d="M16 685.5 L16.0 684.4 L300.0 684.4 L345.0 684.0 L352.0 683.6 L360.0 684.1 L420.0 684.2 L560.0 684.2 L600.0 684.0 L640.0 683.9 L664.5 683.5 L672.7 682.5 L685.0 682.5 L697.2 680.9 L701.3 678.4 L703.3 675.1 L705.4 673.7 L708.5 677.2 L711.5 676.4 L714.6 678.4 L718.7 680.5 L721.7 678.8 L724.8 678.2 L727.9 680.0 L731.9 680.9 L736.0 679.8 L740.1 679.4 L746.3 680.9 L754.4 681.3 L760.6 680.3 L766.7 681.3 L787.1 681.3 L792.2 682.9 L823.9 682.9 L832.1 681.9 L837.2 680.5 L842.3 680.3 L848.4 678.2 L852.5 679.2 L856.6 678.0 L860.7 678.8 L866.8 678.8 L870.9 680.3 L877.0 679.6 L885.2 680.9 L893.4 680.9 L903.6 679.2 L909.7 679.8 L913.8 681.9 L922.0 680.9 L932.2 679.2 L942.4 679.4 L950.6 678.2 L958.8 678.8 L960.0 678.9 L966.1 678.2 L972.3 676.6 L977.6 674.0 L982.2 673.9 L985.3 669.0 L988.4 665.1 L991.4 664.1 L993.7 665.9 L995.6 659.0 L997.5 657.5 L999.8 653.9 L1002.1 655.5 L1004.4 652.9 L1006.7 653.3 L1009.0 651.3 L1012.9 650.3 L1015.5 653.3 L1017.9 652.1 L1020.5 653.6 L1022.1 660.5 L1024.4 662.8 L1026.4 664.1 L1028.7 661.6 L1030.2 665.6 L1033.6 665.1 L1037.4 666.2 L1038.9 663.6 L1040.5 662.1 L1042.3 658.5 L1044.3 658.2 L1046.3 656.2 L1047.8 657.0 L1049.8 654.4 L1051.2 655.9 L1052.7 659.5 L1055.0 659.8 L1056.9 655.5 L1058.9 650.6 L1061.1 648.6 L1063.4 649.0 L1065.7 645.7 L1067.6 646.7 L1069.6 651.8 L1071.6 651.3 L1073.1 654.4 L1074.6 657.5 L1076.2 657.9 L1078.0 655.9 L1080.3 657.9 L1082.6 661.0 L1084.4 660.5 L1086.0 662.8 L1088.0 660.2 L1090.0 660.1 L1092.1 662.1 L1094.1 660.1 L1096.4 662.1 L1098.7 661.6 L1100.7 657.9 L1103.3 658.2 L1105.3 661.6 L1107.9 661.3 L1110.5 662.5 L1112.5 667.1 L1114.8 667.7 L1117.1 666.7 L1119.4 667.1 L1121.7 672.8 L1126.3 673.3 L1129.3 672.0 L1131.6 672.0 L1134.7 671.3 L1137.8 671.3 L1140.1 673.1 L1142.1 673.3 L1143.9 672.0 L1146.2 673.9 L1153.1 673.9 L1156.9 673.1 L1159.2 673.9 L1161.1 675.9 L1163.1 675.6 L1166.1 674.8 L1170.0 675.4 L1173.8 674.8 L1176.1 672.0 L1182.2 671.7 L1184.5 670.8 L1188.4 671.7 L1191.4 669.3 L1194.5 669.3 L1197.5 668.2 L1200.0 669.0 L1206.1 669.3 L1210.7 669.0 L1213.0 670.2 L1215.3 669.0 L1216.9 667.1 L1220.7 667.1 L1224.5 668.2 L1229.9 668.2 L1232.2 669.7 L1236.8 670.0 L1241.4 669.3 L1244.4 668.7 L1246.7 665.9 L1249.8 664.7 L1252.9 663.1 L1255.2 662.8 L1257.5 660.7 L1260.5 661.0 L1262.8 659.0 L1264.4 659.0 L1266.2 657.5 L1268.2 658.5 L1270.0 661.0 L1272.0 659.8 L1273.6 659.8 L1275.1 656.7 L1278.2 654.4 L1279.7 646.7 L1282.5 643.2 L1284.6 644.8 L1287.4 644.1 L1289.7 643.4 L1291.6 646.0 L1293.8 645.7 L1295.8 647.8 L1298.1 647.8 L1299.9 643.7 L1301.9 644.4 L1304.2 645.2 L1306.5 644.8 L1308.5 646.7 L1310.0 649.0 L1311.6 648.3 L1313.1 649.8 L1314.9 646.7 L1316.8 645.7 L1318.8 646.7 L1320.3 651.3 L1322.6 650.3 L1325.7 648.3 L1328.4 651.8 L1330.0 651.3 L1331.8 648.3 L1334.9 648.7 L1337.2 646.7 L1340.2 644.8 L1342.5 644.1 L1343.8 633.7 L1346.4 632.2 L1349.4 629.4 L1351.4 628.4 L1353.0 623.8 L1354.5 623.8 L1356.3 629.9 L1358.2 626.1 L1359.4 625.7 L1360.6 627.6 L1362.5 625.7 L1365.5 625.7 L1367.8 628.4 L1370.1 629.4 L1372.4 632.5 L1374.7 637.1 L1376.2 636.8 L1378.1 634.0 L1379.6 634.9 L1381.6 638.0 L1383.9 635.2 L1386.2 630.3 L1388.5 629.9 L1390.3 624.8 L1392.3 623.3 L1394.3 621.5 L1396.2 622.2 L1398.2 621.1 L1400.0 623.0 L1402.0 623.8 L1404.6 621.8 L1405.7 616.1 L1407.2 615.3 L1409.2 616.1 L1412.3 616.9 L1414.1 615.8 L1416.1 617.2 L1418.4 620.7 L1420.7 619.2 L1422.5 617.6 L1425.0 618.7 L1426.5 613.8 L1428.4 612.3 L1429.9 614.6 L1431.1 619.6 L1433.0 618.7 L1435.2 618.1 L1436.0 618.0 L1436 685.5 Z" fill="#EFF2F5"/><rect x="16" y="685" width="1420" height="1" fill="#EEF0F3"/><rect x="1434.6" y="606" width="1.4" height="79" fill="#F2F4F7"/><text transform="translate(127.06 717.7) scale(1.0114 1)" font-size="22.7" fill="#808A9D" stroke="#808A9D" stroke-width="0.25">2012</text><text transform="translate(311.35 717.7) scale(1.0215 1)" font-size="22.7" fill="#808A9D" stroke="#808A9D" stroke-width="0.25">2014</text><text transform="translate(496.65 717.7) scale(1.0233 1)" font-size="22.7" fill="#808A9D" stroke="#808A9D" stroke-width="0.25">2016</text><text transform="translate(682.95 717.7) scale(1.0206 1)" font-size="22.7" fill="#808A9D" stroke="#808A9D" stroke-width="0.25">2018</text><text transform="translate(866.48 717.7) scale(1.0825 1)" font-size="22.7" fill="#808A9D" stroke="#808A9D" stroke-width="0.25">2020</text><text transform="translate(1052.09 717.7) scale(1.0756 1)" font-size="22.7" fill="#808A9D" stroke="#808A9D" stroke-width="0.25">2022</text><text transform="translate(1237.39 717.7) scale(1.0749 1)" font-size="22.7" fill="#808A9D" stroke="#808A9D" stroke-width="0.25">2024</text></svg>
<div class="handle"><i></i><i></i></div>
</body></html>
